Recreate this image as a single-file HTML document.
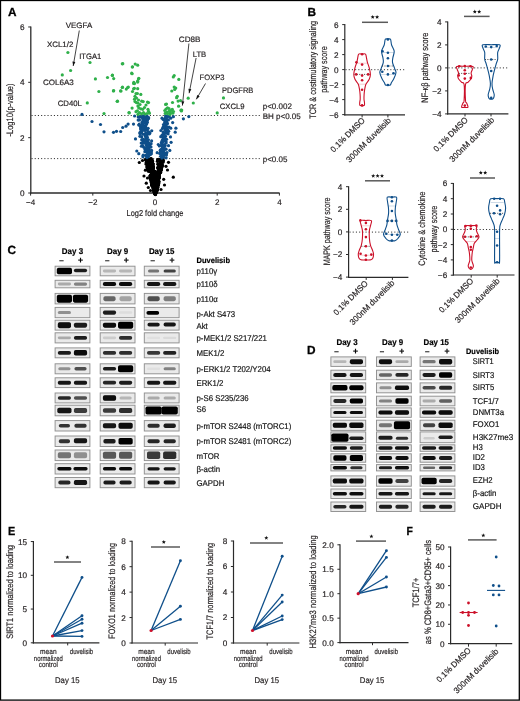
<!DOCTYPE html>
<html><head><meta charset="utf-8"><title>Figure</title><style>html,body{margin:0;padding:0;background:#fff;}body{width:520px;height:701px;overflow:hidden;}svg{display:block;}</style></head><body>
<svg width="520" height="701" viewBox="0 0 520 701" font-family='"Liberation Sans", sans-serif' fill="#231f20" stroke-width="0.18" style="will-change:transform" text-rendering="geometricPrecision">
<defs><filter id="bl" x="-30%" y="-60%" width="160%" height="220%"><feGaussianBlur stdDeviation="0.7"/></filter></defs>
<rect x="0" y="0" width="520" height="701" fill="#fff"/>
<text x="8.00" y="15.90" font-size="11.8" font-weight="bold" fill="#000" stroke="#000" stroke-width="0.3">A</text>
<line x1="30.80" y1="26.60" x2="30.80" y2="193.60" stroke="#2b2b2b" stroke-width="1.3"/>
<line x1="28.20" y1="193.00" x2="30.80" y2="193.00" stroke="#2b2b2b" stroke-width="1"/>
<text x="24.50" y="195.95" font-size="8.2" text-anchor="end" stroke="#231f20">0</text>
<line x1="28.20" y1="137.66" x2="30.80" y2="137.66" stroke="#2b2b2b" stroke-width="1"/>
<text x="24.50" y="140.61" font-size="8.2" text-anchor="end" stroke="#231f20">2</text>
<line x1="28.20" y1="82.32" x2="30.80" y2="82.32" stroke="#2b2b2b" stroke-width="1"/>
<text x="24.50" y="85.27" font-size="8.2" text-anchor="end" stroke="#231f20">4</text>
<line x1="28.20" y1="26.98" x2="30.80" y2="26.98" stroke="#2b2b2b" stroke-width="1"/>
<text x="24.50" y="29.93" font-size="8.2" text-anchor="end" stroke="#231f20">6</text>
<line x1="30.20" y1="193.00" x2="279.60" y2="193.00" stroke="#2b2b2b" stroke-width="1.3"/>
<line x1="30.60" y1="193.00" x2="30.60" y2="195.60" stroke="#2b2b2b" stroke-width="1"/>
<text x="30.60" y="204.68" font-size="8" text-anchor="middle" stroke="#231f20">−4</text>
<line x1="92.80" y1="193.00" x2="92.80" y2="195.60" stroke="#2b2b2b" stroke-width="1"/>
<text x="92.80" y="204.68" font-size="8" text-anchor="middle" stroke="#231f20">−2</text>
<line x1="155.00" y1="193.00" x2="155.00" y2="195.60" stroke="#2b2b2b" stroke-width="1"/>
<text x="155.00" y="204.68" font-size="8" text-anchor="middle" stroke="#231f20">0</text>
<line x1="217.20" y1="193.00" x2="217.20" y2="195.60" stroke="#2b2b2b" stroke-width="1"/>
<text x="217.20" y="204.68" font-size="8" text-anchor="middle" stroke="#231f20">2</text>
<line x1="279.40" y1="193.00" x2="279.40" y2="195.60" stroke="#2b2b2b" stroke-width="1"/>
<text x="279.40" y="204.68" font-size="8" text-anchor="middle" stroke="#231f20">4</text>
<text x="155.00" y="216.40" font-size="8.6" text-anchor="middle" stroke="#231f20" textLength="57" lengthAdjust="spacingAndGlyphs">Log2 fold change</text>
<text x="12.60" y="110.00" font-size="9.4" text-anchor="middle" stroke="#231f20" textLength="53.0" lengthAdjust="spacingAndGlyphs" transform="rotate(-90 12.60 110.00)">-Log10(p-value)</text>
<line x1="31.50" y1="115.50" x2="260.50" y2="115.50" stroke="#333" stroke-width="1.0" stroke-dasharray="1.1 2.1"/>
<line x1="31.50" y1="158.60" x2="260.50" y2="158.60" stroke="#333" stroke-width="1.0" stroke-dasharray="1.1 2.1"/>
<text x="262.70" y="109.28" font-size="8" stroke="#231f20">p&lt;0.002</text>
<text x="262.70" y="119.18" font-size="8" stroke="#231f20">BH p&lt;0.05</text>
<text x="262.70" y="162.28" font-size="8" stroke="#231f20">p&lt;0.05</text>
<circle cx="149.73" cy="169.99" r="1.6" fill="#000"/>
<circle cx="151.57" cy="181.89" r="1.6" fill="#000"/>
<circle cx="153.63" cy="177.71" r="1.6" fill="#000"/>
<circle cx="146.92" cy="160.74" r="1.6" fill="#000"/>
<circle cx="158.47" cy="173.65" r="1.6" fill="#000"/>
<circle cx="149.64" cy="162.71" r="1.6" fill="#000"/>
<circle cx="158.66" cy="181.04" r="1.6" fill="#000"/>
<circle cx="154.00" cy="179.21" r="1.6" fill="#000"/>
<circle cx="155.10" cy="193.74" r="1.6" fill="#000"/>
<circle cx="154.29" cy="189.45" r="1.6" fill="#000"/>
<circle cx="147.93" cy="163.45" r="1.6" fill="#000"/>
<circle cx="159.25" cy="169.43" r="1.6" fill="#000"/>
<circle cx="153.94" cy="181.46" r="1.6" fill="#000"/>
<circle cx="150.87" cy="178.14" r="1.6" fill="#000"/>
<circle cx="148.98" cy="160.37" r="1.6" fill="#000"/>
<circle cx="154.46" cy="182.97" r="1.6" fill="#000"/>
<circle cx="152.71" cy="174.70" r="1.6" fill="#000"/>
<circle cx="156.24" cy="187.12" r="1.6" fill="#000"/>
<circle cx="158.42" cy="177.32" r="1.6" fill="#000"/>
<circle cx="153.56" cy="184.75" r="1.6" fill="#000"/>
<circle cx="155.13" cy="193.88" r="1.6" fill="#000"/>
<circle cx="157.72" cy="173.42" r="1.6" fill="#000"/>
<circle cx="157.61" cy="159.63" r="1.6" fill="#000"/>
<circle cx="155.55" cy="186.03" r="1.6" fill="#000"/>
<circle cx="154.48" cy="190.07" r="1.6" fill="#000"/>
<circle cx="155.73" cy="183.51" r="1.6" fill="#000"/>
<circle cx="154.53" cy="179.31" r="1.6" fill="#000"/>
<circle cx="157.21" cy="188.77" r="1.6" fill="#000"/>
<circle cx="156.47" cy="175.46" r="1.6" fill="#000"/>
<circle cx="158.19" cy="160.41" r="1.6" fill="#000"/>
<circle cx="158.95" cy="181.76" r="1.6" fill="#000"/>
<circle cx="154.05" cy="188.12" r="1.6" fill="#000"/>
<circle cx="156.84" cy="172.24" r="1.6" fill="#000"/>
<circle cx="148.09" cy="164.32" r="1.6" fill="#000"/>
<circle cx="159.43" cy="160.35" r="1.6" fill="#000"/>
<circle cx="150.10" cy="162.91" r="1.6" fill="#000"/>
<circle cx="159.30" cy="172.43" r="1.6" fill="#000"/>
<circle cx="158.41" cy="178.20" r="1.6" fill="#000"/>
<circle cx="156.99" cy="188.02" r="1.6" fill="#000"/>
<circle cx="153.38" cy="168.33" r="1.6" fill="#000"/>
<circle cx="159.79" cy="171.26" r="1.6" fill="#000"/>
<circle cx="154.90" cy="193.06" r="1.6" fill="#000"/>
<circle cx="150.07" cy="164.61" r="1.6" fill="#000"/>
<circle cx="152.86" cy="179.64" r="1.6" fill="#000"/>
<circle cx="155.58" cy="171.64" r="1.6" fill="#000"/>
<circle cx="155.51" cy="192.89" r="1.6" fill="#000"/>
<circle cx="155.99" cy="176.96" r="1.6" fill="#000"/>
<circle cx="151.57" cy="182.81" r="1.6" fill="#000"/>
<circle cx="156.13" cy="190.94" r="1.6" fill="#000"/>
<circle cx="156.33" cy="190.03" r="1.6" fill="#000"/>
<circle cx="153.52" cy="172.48" r="1.6" fill="#000"/>
<circle cx="146.43" cy="160.47" r="1.6" fill="#000"/>
<circle cx="149.13" cy="165.80" r="1.6" fill="#000"/>
<circle cx="148.56" cy="170.58" r="1.6" fill="#000"/>
<circle cx="152.04" cy="161.89" r="1.6" fill="#000"/>
<circle cx="161.58" cy="159.13" r="1.6" fill="#000"/>
<circle cx="151.99" cy="180.55" r="1.6" fill="#000"/>
<circle cx="152.27" cy="167.38" r="1.6" fill="#000"/>
<circle cx="149.81" cy="171.46" r="1.6" fill="#000"/>
<circle cx="157.35" cy="189.10" r="1.6" fill="#000"/>
<circle cx="154.65" cy="175.16" r="1.6" fill="#000"/>
<circle cx="147.24" cy="161.33" r="1.6" fill="#000"/>
<circle cx="151.49" cy="170.67" r="1.6" fill="#000"/>
<circle cx="153.49" cy="188.37" r="1.6" fill="#000"/>
<circle cx="163.06" cy="159.04" r="1.6" fill="#000"/>
<circle cx="151.54" cy="177.43" r="1.6" fill="#000"/>
<circle cx="150.51" cy="177.97" r="1.6" fill="#000"/>
<circle cx="159.38" cy="177.42" r="1.6" fill="#000"/>
<circle cx="155.98" cy="189.63" r="1.6" fill="#000"/>
<circle cx="152.59" cy="167.70" r="1.6" fill="#000"/>
<circle cx="159.13" cy="164.28" r="1.6" fill="#000"/>
<circle cx="157.49" cy="177.59" r="1.6" fill="#000"/>
<circle cx="150.80" cy="170.20" r="1.6" fill="#000"/>
<circle cx="157.69" cy="187.74" r="1.6" fill="#000"/>
<circle cx="156.50" cy="189.24" r="1.6" fill="#000"/>
<circle cx="156.37" cy="187.99" r="1.6" fill="#000"/>
<circle cx="148.46" cy="171.14" r="1.6" fill="#000"/>
<circle cx="150.21" cy="159.22" r="1.6" fill="#000"/>
<circle cx="157.57" cy="167.63" r="1.6" fill="#000"/>
<circle cx="155.20" cy="193.02" r="1.6" fill="#000"/>
<circle cx="156.29" cy="192.31" r="1.6" fill="#000"/>
<circle cx="155.10" cy="192.96" r="1.6" fill="#000"/>
<circle cx="150.23" cy="166.22" r="1.6" fill="#000"/>
<circle cx="149.73" cy="165.36" r="1.6" fill="#000"/>
<circle cx="158.29" cy="180.92" r="1.6" fill="#000"/>
<circle cx="155.06" cy="188.79" r="1.6" fill="#000"/>
<circle cx="157.37" cy="181.97" r="1.6" fill="#000"/>
<circle cx="157.39" cy="161.29" r="1.6" fill="#000"/>
<circle cx="156.08" cy="191.32" r="1.6" fill="#000"/>
<circle cx="154.93" cy="185.51" r="1.6" fill="#000"/>
<circle cx="159.38" cy="164.70" r="1.6" fill="#000"/>
<circle cx="158.89" cy="170.30" r="1.6" fill="#000"/>
<circle cx="155.24" cy="193.57" r="1.6" fill="#000"/>
<circle cx="160.10" cy="172.81" r="1.6" fill="#000"/>
<circle cx="152.70" cy="184.58" r="1.6" fill="#000"/>
<circle cx="148.40" cy="162.82" r="1.6" fill="#000"/>
<circle cx="156.18" cy="191.14" r="1.6" fill="#000"/>
<circle cx="160.14" cy="163.52" r="1.6" fill="#000"/>
<circle cx="155.35" cy="193.88" r="1.6" fill="#000"/>
<circle cx="146.04" cy="162.97" r="1.6" fill="#000"/>
<circle cx="155.34" cy="193.54" r="1.6" fill="#000"/>
<circle cx="158.97" cy="177.37" r="1.6" fill="#000"/>
<circle cx="158.88" cy="173.99" r="1.6" fill="#000"/>
<circle cx="153.72" cy="188.27" r="1.6" fill="#000"/>
<circle cx="151.43" cy="167.37" r="1.6" fill="#000"/>
<circle cx="153.39" cy="167.64" r="1.6" fill="#000"/>
<circle cx="161.67" cy="162.97" r="1.6" fill="#000"/>
<circle cx="154.16" cy="171.08" r="1.6" fill="#000"/>
<circle cx="158.47" cy="179.43" r="1.6" fill="#000"/>
<circle cx="159.53" cy="173.51" r="1.6" fill="#000"/>
<circle cx="155.16" cy="176.46" r="1.6" fill="#000"/>
<circle cx="150.31" cy="177.26" r="1.6" fill="#000"/>
<circle cx="151.36" cy="174.22" r="1.6" fill="#000"/>
<circle cx="155.46" cy="184.60" r="1.6" fill="#000"/>
<circle cx="157.49" cy="178.42" r="1.6" fill="#000"/>
<circle cx="151.16" cy="167.25" r="1.6" fill="#000"/>
<circle cx="155.14" cy="186.31" r="1.6" fill="#000"/>
<circle cx="157.25" cy="178.65" r="1.6" fill="#000"/>
<circle cx="155.05" cy="191.41" r="1.6" fill="#000"/>
<circle cx="155.00" cy="180.50" r="1.6" fill="#000"/>
<circle cx="156.71" cy="176.84" r="1.6" fill="#000"/>
<circle cx="155.15" cy="174.67" r="1.6" fill="#000"/>
<circle cx="159.25" cy="175.60" r="1.6" fill="#000"/>
<circle cx="157.83" cy="183.65" r="1.6" fill="#000"/>
<circle cx="154.80" cy="192.50" r="1.6" fill="#000"/>
<circle cx="158.92" cy="178.57" r="1.6" fill="#000"/>
<circle cx="153.48" cy="188.78" r="1.6" fill="#000"/>
<circle cx="149.69" cy="160.84" r="1.6" fill="#000"/>
<circle cx="157.57" cy="160.86" r="1.6" fill="#000"/>
<circle cx="157.45" cy="186.74" r="1.6" fill="#000"/>
<circle cx="158.22" cy="163.82" r="1.6" fill="#000"/>
<circle cx="152.18" cy="182.23" r="1.6" fill="#000"/>
<circle cx="156.90" cy="190.34" r="1.6" fill="#000"/>
<circle cx="161.82" cy="166.19" r="1.6" fill="#000"/>
<circle cx="154.60" cy="172.70" r="1.6" fill="#000"/>
<circle cx="155.43" cy="194.23" r="1.6" fill="#000"/>
<circle cx="153.38" cy="164.08" r="1.6" fill="#000"/>
<circle cx="153.32" cy="176.97" r="1.6" fill="#000"/>
<circle cx="151.60" cy="165.33" r="1.6" fill="#000"/>
<circle cx="151.61" cy="184.49" r="1.6" fill="#000"/>
<circle cx="154.35" cy="178.37" r="1.6" fill="#000"/>
<circle cx="151.17" cy="158.86" r="1.6" fill="#000"/>
<circle cx="155.06" cy="180.91" r="1.6" fill="#000"/>
<circle cx="163.43" cy="160.54" r="1.6" fill="#000"/>
<circle cx="157.85" cy="186.90" r="1.6" fill="#000"/>
<circle cx="150.30" cy="162.01" r="1.6" fill="#000"/>
<circle cx="159.70" cy="159.64" r="1.6" fill="#000"/>
<circle cx="149.04" cy="168.04" r="1.6" fill="#000"/>
<circle cx="159.44" cy="173.57" r="1.6" fill="#000"/>
<circle cx="153.90" cy="188.01" r="1.6" fill="#000"/>
<circle cx="161.72" cy="163.64" r="1.6" fill="#000"/>
<circle cx="156.70" cy="178.97" r="1.6" fill="#000"/>
<circle cx="146.46" cy="161.46" r="1.6" fill="#000"/>
<circle cx="154.45" cy="183.25" r="1.6" fill="#000"/>
<circle cx="162.52" cy="160.84" r="1.6" fill="#000"/>
<circle cx="157.44" cy="181.29" r="1.6" fill="#000"/>
<circle cx="160.95" cy="161.25" r="1.6" fill="#000"/>
<circle cx="161.15" cy="160.63" r="1.6" fill="#000"/>
<circle cx="153.13" cy="174.72" r="1.6" fill="#000"/>
<circle cx="158.79" cy="178.33" r="1.6" fill="#000"/>
<circle cx="149.02" cy="167.95" r="1.6" fill="#000"/>
<circle cx="152.40" cy="177.38" r="1.6" fill="#000"/>
<circle cx="148.47" cy="162.18" r="1.6" fill="#000"/>
<circle cx="148.85" cy="160.03" r="1.6" fill="#000"/>
<circle cx="151.87" cy="169.56" r="1.6" fill="#000"/>
<circle cx="153.73" cy="185.85" r="1.6" fill="#000"/>
<circle cx="151.71" cy="176.40" r="1.6" fill="#000"/>
<circle cx="148.19" cy="170.83" r="1.6" fill="#000"/>
<circle cx="147.13" cy="167.32" r="1.6" fill="#000"/>
<circle cx="155.42" cy="184.88" r="1.6" fill="#000"/>
<circle cx="154.35" cy="192.22" r="1.6" fill="#000"/>
<circle cx="154.79" cy="188.01" r="1.6" fill="#000"/>
<circle cx="158.13" cy="176.22" r="1.6" fill="#000"/>
<circle cx="154.83" cy="172.51" r="1.6" fill="#000"/>
<circle cx="158.67" cy="183.23" r="1.6" fill="#000"/>
<circle cx="159.24" cy="170.67" r="1.6" fill="#000"/>
<circle cx="156.03" cy="183.92" r="1.6" fill="#000"/>
<circle cx="152.95" cy="172.93" r="1.6" fill="#000"/>
<circle cx="147.53" cy="160.18" r="1.6" fill="#000"/>
<circle cx="158.89" cy="160.77" r="1.6" fill="#000"/>
<circle cx="149.45" cy="167.50" r="1.6" fill="#000"/>
<circle cx="160.68" cy="161.28" r="1.6" fill="#000"/>
<circle cx="155.85" cy="189.89" r="1.6" fill="#000"/>
<circle cx="150.80" cy="168.46" r="1.6" fill="#000"/>
<circle cx="161.67" cy="167.78" r="1.6" fill="#000"/>
<circle cx="155.30" cy="193.60" r="1.6" fill="#000"/>
<circle cx="161.86" cy="167.10" r="1.6" fill="#000"/>
<circle cx="152.60" cy="169.47" r="1.6" fill="#000"/>
<circle cx="154.85" cy="175.48" r="1.6" fill="#000"/>
<circle cx="152.65" cy="161.47" r="1.6" fill="#000"/>
<circle cx="145.42" cy="159.72" r="1.6" fill="#000"/>
<circle cx="150.78" cy="169.27" r="1.6" fill="#000"/>
<circle cx="155.18" cy="179.52" r="1.6" fill="#000"/>
<circle cx="156.13" cy="185.52" r="1.6" fill="#000"/>
<circle cx="157.79" cy="184.26" r="1.6" fill="#000"/>
<circle cx="152.61" cy="172.38" r="1.6" fill="#000"/>
<circle cx="155.15" cy="194.04" r="1.6" fill="#000"/>
<circle cx="156.07" cy="184.56" r="1.6" fill="#000"/>
<circle cx="160.75" cy="159.79" r="1.6" fill="#000"/>
<circle cx="155.64" cy="190.67" r="1.6" fill="#000"/>
<circle cx="157.25" cy="184.91" r="1.6" fill="#000"/>
<circle cx="158.10" cy="176.56" r="1.6" fill="#000"/>
<circle cx="156.90" cy="187.49" r="1.6" fill="#000"/>
<circle cx="158.37" cy="179.46" r="1.6" fill="#000"/>
<circle cx="156.49" cy="183.06" r="1.6" fill="#000"/>
<circle cx="147.19" cy="166.57" r="1.6" fill="#000"/>
<circle cx="152.09" cy="163.04" r="1.6" fill="#000"/>
<circle cx="160.49" cy="162.02" r="1.6" fill="#000"/>
<circle cx="156.06" cy="178.53" r="1.6" fill="#000"/>
<circle cx="156.46" cy="180.99" r="1.6" fill="#000"/>
<circle cx="149.93" cy="176.01" r="1.6" fill="#000"/>
<circle cx="156.51" cy="187.24" r="1.6" fill="#000"/>
<circle cx="155.19" cy="176.51" r="1.6" fill="#000"/>
<circle cx="151.57" cy="182.20" r="1.6" fill="#000"/>
<circle cx="153.33" cy="185.02" r="1.6" fill="#000"/>
<circle cx="150.16" cy="160.91" r="1.6" fill="#000"/>
<circle cx="152.97" cy="184.75" r="1.6" fill="#000"/>
<circle cx="158.36" cy="185.13" r="1.6" fill="#000"/>
<circle cx="153.69" cy="176.18" r="1.6" fill="#000"/>
<circle cx="156.66" cy="175.64" r="1.6" fill="#000"/>
<circle cx="155.83" cy="186.12" r="1.6" fill="#000"/>
<circle cx="151.56" cy="181.60" r="1.6" fill="#000"/>
<circle cx="150.30" cy="163.57" r="1.6" fill="#000"/>
<circle cx="153.73" cy="185.25" r="1.6" fill="#000"/>
<circle cx="150.54" cy="178.87" r="1.6" fill="#000"/>
<circle cx="150.15" cy="160.41" r="1.6" fill="#000"/>
<circle cx="156.49" cy="182.66" r="1.6" fill="#000"/>
<circle cx="153.40" cy="182.80" r="1.6" fill="#000"/>
<circle cx="154.52" cy="177.00" r="1.6" fill="#000"/>
<circle cx="150.95" cy="175.17" r="1.6" fill="#000"/>
<circle cx="154.18" cy="190.73" r="1.6" fill="#000"/>
<circle cx="155.46" cy="193.80" r="1.6" fill="#000"/>
<circle cx="157.52" cy="188.04" r="1.6" fill="#000"/>
<circle cx="152.36" cy="174.56" r="1.6" fill="#000"/>
<circle cx="161.78" cy="165.84" r="1.6" fill="#000"/>
<circle cx="154.78" cy="192.88" r="1.6" fill="#000"/>
<circle cx="155.18" cy="188.06" r="1.6" fill="#000"/>
<circle cx="155.92" cy="190.48" r="1.6" fill="#000"/>
<circle cx="160.88" cy="166.62" r="1.6" fill="#000"/>
<circle cx="150.12" cy="175.90" r="1.6" fill="#000"/>
<circle cx="152.72" cy="174.61" r="1.6" fill="#000"/>
<circle cx="151.82" cy="163.32" r="1.6" fill="#000"/>
<circle cx="159.56" cy="169.71" r="1.6" fill="#000"/>
<circle cx="153.39" cy="188.74" r="1.6" fill="#000"/>
<circle cx="155.80" cy="191.92" r="1.6" fill="#000"/>
<circle cx="154.54" cy="191.02" r="1.6" fill="#000"/>
<circle cx="153.36" cy="171.75" r="1.6" fill="#000"/>
<circle cx="155.34" cy="194.56" r="1.6" fill="#000"/>
<circle cx="153.78" cy="171.33" r="1.6" fill="#000"/>
<circle cx="147.85" cy="168.22" r="1.6" fill="#000"/>
<circle cx="160.48" cy="161.90" r="1.6" fill="#000"/>
<circle cx="161.12" cy="168.60" r="1.6" fill="#000"/>
<circle cx="150.99" cy="167.28" r="1.6" fill="#000"/>
<circle cx="151.87" cy="176.80" r="1.6" fill="#000"/>
<circle cx="160.56" cy="171.79" r="1.6" fill="#000"/>
<circle cx="156.32" cy="190.39" r="1.6" fill="#000"/>
<circle cx="158.37" cy="181.16" r="1.6" fill="#000"/>
<circle cx="155.34" cy="192.44" r="1.6" fill="#000"/>
<circle cx="151.81" cy="184.39" r="1.6" fill="#000"/>
<circle cx="154.71" cy="184.86" r="1.6" fill="#000"/>
<circle cx="156.03" cy="185.60" r="1.6" fill="#000"/>
<circle cx="147.96" cy="168.62" r="1.6" fill="#000"/>
<circle cx="154.25" cy="191.93" r="1.6" fill="#000"/>
<circle cx="153.25" cy="175.39" r="1.6" fill="#000"/>
<circle cx="158.16" cy="169.04" r="1.6" fill="#000"/>
<circle cx="155.18" cy="193.74" r="1.6" fill="#000"/>
<circle cx="153.41" cy="182.08" r="1.6" fill="#000"/>
<circle cx="153.94" cy="178.49" r="1.6" fill="#000"/>
<circle cx="148.84" cy="164.29" r="1.6" fill="#000"/>
<circle cx="161.15" cy="165.77" r="1.6" fill="#000"/>
<circle cx="152.10" cy="176.29" r="1.6" fill="#000"/>
<circle cx="156.76" cy="191.19" r="1.6" fill="#000"/>
<circle cx="151.00" cy="174.58" r="1.6" fill="#000"/>
<circle cx="147.84" cy="165.20" r="1.6" fill="#000"/>
<circle cx="149.11" cy="170.65" r="1.6" fill="#000"/>
<circle cx="150.83" cy="166.90" r="1.6" fill="#000"/>
<circle cx="158.37" cy="178.93" r="1.6" fill="#000"/>
<circle cx="154.49" cy="185.49" r="1.6" fill="#000"/>
<circle cx="155.05" cy="173.27" r="1.6" fill="#000"/>
<circle cx="152.69" cy="171.92" r="1.6" fill="#000"/>
<circle cx="150.32" cy="160.46" r="1.6" fill="#000"/>
<circle cx="155.08" cy="193.42" r="1.6" fill="#000"/>
<circle cx="156.11" cy="176.52" r="1.6" fill="#000"/>
<circle cx="154.01" cy="189.61" r="1.6" fill="#000"/>
<circle cx="150.84" cy="168.07" r="1.6" fill="#000"/>
<circle cx="154.11" cy="172.75" r="1.6" fill="#000"/>
<circle cx="155.69" cy="192.92" r="1.6" fill="#000"/>
<circle cx="153.33" cy="189.97" r="1.6" fill="#000"/>
<circle cx="158.41" cy="159.37" r="1.6" fill="#000"/>
<circle cx="155.12" cy="190.80" r="1.6" fill="#000"/>
<circle cx="150.56" cy="179.57" r="1.6" fill="#000"/>
<circle cx="159.97" cy="172.45" r="1.6" fill="#000"/>
<circle cx="156.91" cy="188.25" r="1.6" fill="#000"/>
<circle cx="155.18" cy="193.59" r="1.6" fill="#000"/>
<circle cx="148.34" cy="162.17" r="1.6" fill="#000"/>
<circle cx="156.60" cy="177.21" r="1.6" fill="#000"/>
<circle cx="155.67" cy="192.47" r="1.6" fill="#000"/>
<circle cx="157.11" cy="181.76" r="1.6" fill="#000"/>
<circle cx="155.34" cy="174.85" r="1.6" fill="#000"/>
<circle cx="159.76" cy="159.64" r="1.6" fill="#000"/>
<circle cx="161.22" cy="166.67" r="1.6" fill="#000"/>
<circle cx="153.40" cy="181.70" r="1.6" fill="#000"/>
<circle cx="150.17" cy="162.86" r="1.6" fill="#000"/>
<circle cx="156.59" cy="181.36" r="1.6" fill="#000"/>
<circle cx="146.87" cy="162.28" r="1.6" fill="#000"/>
<circle cx="155.65" cy="177.29" r="1.6" fill="#000"/>
<circle cx="151.33" cy="172.33" r="1.6" fill="#000"/>
<circle cx="150.74" cy="180.08" r="1.6" fill="#000"/>
<circle cx="155.41" cy="193.11" r="1.6" fill="#000"/>
<circle cx="155.11" cy="190.37" r="1.6" fill="#000"/>
<circle cx="150.63" cy="166.75" r="1.6" fill="#000"/>
<circle cx="155.45" cy="193.17" r="1.6" fill="#000"/>
<circle cx="147.75" cy="169.39" r="1.6" fill="#000"/>
<circle cx="156.55" cy="176.34" r="1.6" fill="#000"/>
<circle cx="152.01" cy="173.49" r="1.6" fill="#000"/>
<circle cx="158.32" cy="182.49" r="1.6" fill="#000"/>
<circle cx="147.21" cy="166.46" r="1.6" fill="#000"/>
<circle cx="153.60" cy="170.51" r="1.6" fill="#000"/>
<circle cx="152.71" cy="183.05" r="1.6" fill="#000"/>
<circle cx="156.46" cy="187.21" r="1.6" fill="#000"/>
<circle cx="151.99" cy="176.58" r="1.6" fill="#000"/>
<circle cx="155.20" cy="193.50" r="1.6" fill="#000"/>
<circle cx="153.77" cy="188.05" r="1.6" fill="#000"/>
<circle cx="158.75" cy="166.26" r="1.6" fill="#000"/>
<circle cx="161.30" cy="168.94" r="1.6" fill="#000"/>
<circle cx="151.78" cy="176.25" r="1.6" fill="#000"/>
<circle cx="153.28" cy="166.33" r="1.6" fill="#000"/>
<circle cx="158.51" cy="182.42" r="1.6" fill="#000"/>
<circle cx="152.69" cy="163.53" r="1.6" fill="#000"/>
<circle cx="162.21" cy="165.95" r="1.6" fill="#000"/>
<circle cx="146.78" cy="163.37" r="1.6" fill="#000"/>
<circle cx="152.47" cy="160.39" r="1.6" fill="#000"/>
<circle cx="156.47" cy="190.89" r="1.6" fill="#000"/>
<circle cx="158.56" cy="184.87" r="1.6" fill="#000"/>
<circle cx="154.82" cy="192.11" r="1.6" fill="#000"/>
<circle cx="161.78" cy="164.95" r="1.6" fill="#000"/>
<circle cx="151.90" cy="185.37" r="1.6" fill="#000"/>
<circle cx="154.05" cy="182.39" r="1.6" fill="#000"/>
<circle cx="152.59" cy="171.81" r="1.6" fill="#000"/>
<circle cx="146.18" cy="164.36" r="1.6" fill="#000"/>
<circle cx="152.43" cy="168.38" r="1.6" fill="#000"/>
<circle cx="154.82" cy="192.98" r="1.6" fill="#000"/>
<circle cx="155.07" cy="193.30" r="1.6" fill="#000"/>
<circle cx="158.98" cy="171.18" r="1.6" fill="#000"/>
<circle cx="154.80" cy="188.12" r="1.6" fill="#000"/>
<circle cx="160.10" cy="171.77" r="1.6" fill="#000"/>
<circle cx="152.34" cy="165.23" r="1.6" fill="#000"/>
<circle cx="153.65" cy="190.85" r="1.6" fill="#000"/>
<circle cx="158.41" cy="173.15" r="1.6" fill="#000"/>
<circle cx="152.19" cy="186.11" r="1.6" fill="#000"/>
<circle cx="146.12" cy="159.47" r="1.6" fill="#000"/>
<circle cx="154.55" cy="191.69" r="1.6" fill="#000"/>
<circle cx="157.76" cy="185.40" r="1.6" fill="#000"/>
<circle cx="151.57" cy="170.54" r="1.6" fill="#000"/>
<circle cx="155.39" cy="193.06" r="1.6" fill="#000"/>
<circle cx="157.94" cy="167.74" r="1.6" fill="#000"/>
<circle cx="151.47" cy="169.72" r="1.6" fill="#000"/>
<circle cx="155.61" cy="191.56" r="1.6" fill="#000"/>
<circle cx="154.39" cy="192.53" r="1.6" fill="#000"/>
<circle cx="155.76" cy="193.03" r="1.6" fill="#000"/>
<circle cx="151.66" cy="172.27" r="1.6" fill="#000"/>
<circle cx="154.71" cy="173.85" r="1.6" fill="#000"/>
<circle cx="154.41" cy="191.98" r="1.6" fill="#000"/>
<circle cx="156.43" cy="187.41" r="1.6" fill="#000"/>
<circle cx="156.51" cy="188.15" r="1.6" fill="#000"/>
<circle cx="153.48" cy="180.30" r="1.6" fill="#000"/>
<circle cx="152.71" cy="169.83" r="1.6" fill="#000"/>
<circle cx="152.60" cy="186.67" r="1.6" fill="#000"/>
<circle cx="158.71" cy="165.38" r="1.6" fill="#000"/>
<circle cx="147.87" cy="167.20" r="1.6" fill="#000"/>
<circle cx="161.49" cy="170.06" r="1.6" fill="#000"/>
<circle cx="156.97" cy="190.36" r="1.6" fill="#000"/>
<circle cx="148.31" cy="167.84" r="1.6" fill="#000"/>
<circle cx="154.65" cy="184.04" r="1.6" fill="#000"/>
<circle cx="153.30" cy="166.72" r="1.6" fill="#000"/>
<circle cx="156.41" cy="180.78" r="1.6" fill="#000"/>
<circle cx="157.41" cy="185.43" r="1.6" fill="#000"/>
<circle cx="152.03" cy="182.39" r="1.6" fill="#000"/>
<circle cx="154.21" cy="188.81" r="1.6" fill="#000"/>
<circle cx="153.77" cy="178.83" r="1.6" fill="#000"/>
<circle cx="152.97" cy="185.07" r="1.6" fill="#000"/>
<circle cx="150.67" cy="167.21" r="1.6" fill="#000"/>
<circle cx="161.10" cy="163.78" r="1.6" fill="#000"/>
<circle cx="153.38" cy="179.25" r="1.6" fill="#000"/>
<circle cx="160.71" cy="172.62" r="1.6" fill="#000"/>
<circle cx="152.26" cy="176.67" r="1.6" fill="#000"/>
<circle cx="155.95" cy="187.63" r="1.6" fill="#000"/>
<circle cx="155.14" cy="194.27" r="1.6" fill="#000"/>
<circle cx="158.03" cy="175.48" r="1.6" fill="#000"/>
<circle cx="157.07" cy="188.80" r="1.6" fill="#000"/>
<circle cx="150.53" cy="159.67" r="1.6" fill="#000"/>
<circle cx="149.03" cy="162.54" r="1.6" fill="#000"/>
<circle cx="155.31" cy="193.62" r="1.6" fill="#000"/>
<circle cx="154.92" cy="192.06" r="1.6" fill="#000"/>
<circle cx="154.98" cy="189.73" r="1.6" fill="#000"/>
<circle cx="158.88" cy="167.66" r="1.6" fill="#000"/>
<circle cx="154.59" cy="192.62" r="1.6" fill="#000"/>
<circle cx="155.97" cy="179.90" r="1.6" fill="#000"/>
<circle cx="152.49" cy="166.12" r="1.6" fill="#000"/>
<circle cx="149.40" cy="163.35" r="1.6" fill="#000"/>
<circle cx="152.62" cy="181.92" r="1.6" fill="#000"/>
<circle cx="151.06" cy="158.61" r="1.6" fill="#000"/>
<circle cx="152.59" cy="182.89" r="1.6" fill="#000"/>
<circle cx="150.40" cy="169.56" r="1.6" fill="#000"/>
<circle cx="155.39" cy="187.15" r="1.6" fill="#000"/>
<circle cx="147.07" cy="160.50" r="1.6" fill="#000"/>
<circle cx="155.36" cy="172.59" r="1.6" fill="#000"/>
<circle cx="151.65" cy="181.47" r="1.6" fill="#000"/>
<circle cx="157.85" cy="164.16" r="1.6" fill="#000"/>
<circle cx="152.23" cy="173.12" r="1.6" fill="#000"/>
<circle cx="161.24" cy="169.40" r="1.6" fill="#000"/>
<circle cx="153.61" cy="171.20" r="1.6" fill="#000"/>
<circle cx="157.20" cy="189.66" r="1.6" fill="#000"/>
<circle cx="150.77" cy="171.44" r="1.6" fill="#000"/>
<circle cx="152.95" cy="184.70" r="1.6" fill="#000"/>
<circle cx="158.40" cy="173.62" r="1.6" fill="#000"/>
<circle cx="159.28" cy="172.99" r="1.6" fill="#000"/>
<circle cx="151.36" cy="174.98" r="1.6" fill="#000"/>
<circle cx="158.30" cy="181.52" r="1.6" fill="#000"/>
<circle cx="154.79" cy="171.70" r="1.6" fill="#000"/>
<circle cx="150.79" cy="163.51" r="1.6" fill="#000"/>
<circle cx="158.91" cy="177.17" r="1.6" fill="#000"/>
<circle cx="157.66" cy="187.50" r="1.6" fill="#000"/>
<circle cx="148.47" cy="165.38" r="1.6" fill="#000"/>
<circle cx="156.12" cy="192.53" r="1.6" fill="#000"/>
<circle cx="150.39" cy="175.77" r="1.6" fill="#000"/>
<circle cx="154.94" cy="191.91" r="1.6" fill="#000"/>
<circle cx="155.60" cy="191.11" r="1.6" fill="#000"/>
<circle cx="153.45" cy="188.21" r="1.6" fill="#000"/>
<circle cx="153.48" cy="186.80" r="1.6" fill="#000"/>
<circle cx="158.87" cy="172.92" r="1.6" fill="#000"/>
<circle cx="153.60" cy="188.38" r="1.6" fill="#000"/>
<circle cx="152.99" cy="166.14" r="1.6" fill="#000"/>
<circle cx="153.75" cy="177.05" r="1.6" fill="#000"/>
<circle cx="150.06" cy="162.68" r="1.6" fill="#000"/>
<circle cx="157.89" cy="184.59" r="1.6" fill="#000"/>
<circle cx="152.07" cy="185.77" r="1.6" fill="#000"/>
<circle cx="153.37" cy="188.71" r="1.6" fill="#000"/>
<circle cx="155.37" cy="180.02" r="1.6" fill="#000"/>
<circle cx="153.36" cy="181.02" r="1.6" fill="#000"/>
<circle cx="155.72" cy="173.49" r="1.6" fill="#000"/>
<circle cx="156.57" cy="173.70" r="1.6" fill="#000"/>
<circle cx="154.14" cy="174.46" r="1.6" fill="#000"/>
<circle cx="152.22" cy="176.02" r="1.6" fill="#000"/>
<circle cx="156.87" cy="185.99" r="1.6" fill="#000"/>
<circle cx="151.51" cy="174.88" r="1.6" fill="#000"/>
<circle cx="150.87" cy="175.43" r="1.6" fill="#000"/>
<circle cx="150.43" cy="176.77" r="1.6" fill="#000"/>
<circle cx="151.56" cy="181.37" r="1.6" fill="#000"/>
<circle cx="157.01" cy="184.90" r="1.6" fill="#000"/>
<circle cx="150.57" cy="176.82" r="1.6" fill="#000"/>
<circle cx="153.67" cy="176.54" r="1.6" fill="#000"/>
<circle cx="154.74" cy="192.81" r="1.6" fill="#000"/>
<circle cx="157.27" cy="189.40" r="1.6" fill="#000"/>
<circle cx="157.28" cy="184.85" r="1.6" fill="#000"/>
<circle cx="162.48" cy="165.25" r="1.6" fill="#000"/>
<circle cx="159.34" cy="176.10" r="1.6" fill="#000"/>
<circle cx="154.26" cy="191.54" r="1.6" fill="#000"/>
<circle cx="157.61" cy="186.90" r="1.6" fill="#000"/>
<circle cx="151.70" cy="160.58" r="1.6" fill="#000"/>
<circle cx="152.85" cy="185.72" r="1.6" fill="#000"/>
<circle cx="154.46" cy="190.83" r="1.6" fill="#000"/>
<circle cx="153.29" cy="187.89" r="1.6" fill="#000"/>
<circle cx="158.93" cy="176.48" r="1.6" fill="#000"/>
<circle cx="150.75" cy="165.78" r="1.6" fill="#000"/>
<circle cx="153.10" cy="176.62" r="1.6" fill="#000"/>
<circle cx="148.40" cy="159.54" r="1.6" fill="#000"/>
<circle cx="161.94" cy="164.07" r="1.6" fill="#000"/>
<circle cx="158.04" cy="182.94" r="1.6" fill="#000"/>
<circle cx="159.34" cy="164.34" r="1.6" fill="#000"/>
<circle cx="153.83" cy="181.36" r="1.6" fill="#000"/>
<circle cx="155.40" cy="189.98" r="1.6" fill="#000"/>
<circle cx="158.29" cy="179.31" r="1.6" fill="#000"/>
<circle cx="163.30" cy="162.01" r="1.6" fill="#000"/>
<circle cx="154.09" cy="181.12" r="1.6" fill="#000"/>
<circle cx="153.80" cy="187.24" r="1.6" fill="#000"/>
<circle cx="155.32" cy="194.25" r="1.6" fill="#000"/>
<circle cx="158.20" cy="171.31" r="1.6" fill="#000"/>
<circle cx="151.32" cy="174.30" r="1.6" fill="#000"/>
<circle cx="151.98" cy="185.27" r="1.6" fill="#000"/>
<circle cx="153.89" cy="188.04" r="1.6" fill="#000"/>
<circle cx="158.91" cy="181.47" r="1.6" fill="#000"/>
<circle cx="156.36" cy="179.53" r="1.6" fill="#000"/>
<circle cx="147.50" cy="169.58" r="1.6" fill="#000"/>
<circle cx="147.76" cy="159.43" r="1.6" fill="#000"/>
<circle cx="154.38" cy="180.62" r="1.6" fill="#000"/>
<circle cx="158.66" cy="176.86" r="1.6" fill="#000"/>
<circle cx="149.76" cy="163.01" r="1.6" fill="#000"/>
<circle cx="151.18" cy="181.97" r="1.6" fill="#000"/>
<circle cx="151.94" cy="162.07" r="1.6" fill="#000"/>
<circle cx="152.35" cy="179.64" r="1.6" fill="#000"/>
<circle cx="154.75" cy="180.91" r="1.6" fill="#000"/>
<circle cx="162.11" cy="163.10" r="1.6" fill="#000"/>
<circle cx="149.15" cy="167.07" r="1.6" fill="#000"/>
<circle cx="156.29" cy="189.91" r="1.6" fill="#000"/>
<circle cx="151.94" cy="172.83" r="1.6" fill="#000"/>
<circle cx="153.55" cy="178.67" r="1.6" fill="#000"/>
<circle cx="154.53" cy="181.70" r="1.6" fill="#000"/>
<circle cx="155.75" cy="192.31" r="1.6" fill="#000"/>
<circle cx="160.87" cy="167.25" r="1.6" fill="#000"/>
<circle cx="151.66" cy="172.98" r="1.6" fill="#000"/>
<circle cx="159.63" cy="160.33" r="1.6" fill="#000"/>
<circle cx="154.55" cy="192.45" r="1.6" fill="#000"/>
<circle cx="156.22" cy="176.65" r="1.6" fill="#000"/>
<circle cx="139.30" cy="162.50" r="1.6" fill="#000"/>
<circle cx="173.30" cy="177.20" r="1.6" fill="#000"/>
<circle cx="168.50" cy="162.30" r="1.6" fill="#000"/>
<circle cx="146.30" cy="183.20" r="1.6" fill="#000"/>
<circle cx="144.00" cy="176.00" r="1.6" fill="#000"/>
<circle cx="148.30" cy="187.50" r="1.6" fill="#000"/>
<circle cx="163.70" cy="179.30" r="1.6" fill="#000"/>
<circle cx="166.00" cy="166.30" r="1.6" fill="#000"/>
<circle cx="145.40" cy="170.20" r="1.6" fill="#000"/>
<circle cx="142.50" cy="160.50" r="1.6" fill="#000"/>
<circle cx="167.50" cy="170.00" r="1.6" fill="#000"/>
<circle cx="147.50" cy="178.00" r="1.6" fill="#000"/>
<circle cx="164.50" cy="185.00" r="1.6" fill="#000"/>
<circle cx="150.50" cy="190.50" r="1.6" fill="#000"/>
<circle cx="161.00" cy="189.50" r="1.6" fill="#000"/>
<circle cx="146.51" cy="150.29" r="1.6" fill="#0f4f8a"/>
<circle cx="146.74" cy="117.86" r="1.6" fill="#0f4f8a"/>
<circle cx="148.71" cy="146.13" r="1.6" fill="#0f4f8a"/>
<circle cx="147.06" cy="151.60" r="1.6" fill="#0f4f8a"/>
<circle cx="147.05" cy="147.25" r="1.6" fill="#0f4f8a"/>
<circle cx="145.38" cy="125.65" r="1.6" fill="#0f4f8a"/>
<circle cx="147.02" cy="130.03" r="1.6" fill="#0f4f8a"/>
<circle cx="144.90" cy="151.64" r="1.6" fill="#0f4f8a"/>
<circle cx="146.60" cy="139.28" r="1.6" fill="#0f4f8a"/>
<circle cx="140.92" cy="127.05" r="1.6" fill="#0f4f8a"/>
<circle cx="148.41" cy="156.72" r="1.6" fill="#0f4f8a"/>
<circle cx="143.87" cy="126.84" r="1.6" fill="#0f4f8a"/>
<circle cx="149.63" cy="147.34" r="1.6" fill="#0f4f8a"/>
<circle cx="142.47" cy="129.66" r="1.6" fill="#0f4f8a"/>
<circle cx="145.74" cy="125.94" r="1.6" fill="#0f4f8a"/>
<circle cx="149.44" cy="145.18" r="1.6" fill="#0f4f8a"/>
<circle cx="147.05" cy="151.40" r="1.6" fill="#0f4f8a"/>
<circle cx="147.01" cy="152.16" r="1.6" fill="#0f4f8a"/>
<circle cx="140.90" cy="128.85" r="1.6" fill="#0f4f8a"/>
<circle cx="147.44" cy="142.20" r="1.6" fill="#0f4f8a"/>
<circle cx="142.04" cy="116.94" r="1.6" fill="#0f4f8a"/>
<circle cx="148.27" cy="155.19" r="1.6" fill="#0f4f8a"/>
<circle cx="143.56" cy="117.57" r="1.6" fill="#0f4f8a"/>
<circle cx="146.20" cy="142.68" r="1.6" fill="#0f4f8a"/>
<circle cx="145.08" cy="140.84" r="1.6" fill="#0f4f8a"/>
<circle cx="151.58" cy="150.46" r="1.6" fill="#0f4f8a"/>
<circle cx="148.54" cy="118.60" r="1.6" fill="#0f4f8a"/>
<circle cx="148.31" cy="155.84" r="1.6" fill="#0f4f8a"/>
<circle cx="147.06" cy="117.26" r="1.6" fill="#0f4f8a"/>
<circle cx="147.78" cy="142.69" r="1.6" fill="#0f4f8a"/>
<circle cx="145.67" cy="127.98" r="1.6" fill="#0f4f8a"/>
<circle cx="139.50" cy="119.95" r="1.6" fill="#0f4f8a"/>
<circle cx="146.66" cy="129.33" r="1.6" fill="#0f4f8a"/>
<circle cx="142.69" cy="127.78" r="1.6" fill="#0f4f8a"/>
<circle cx="144.59" cy="129.40" r="1.6" fill="#0f4f8a"/>
<circle cx="147.72" cy="151.90" r="1.6" fill="#0f4f8a"/>
<circle cx="138.26" cy="117.11" r="1.6" fill="#0f4f8a"/>
<circle cx="145.15" cy="130.50" r="1.6" fill="#0f4f8a"/>
<circle cx="138.81" cy="124.98" r="1.6" fill="#0f4f8a"/>
<circle cx="148.95" cy="150.56" r="1.6" fill="#0f4f8a"/>
<circle cx="143.41" cy="115.86" r="1.6" fill="#0f4f8a"/>
<circle cx="134.62" cy="115.98" r="1.6" fill="#0f4f8a"/>
<circle cx="141.75" cy="136.64" r="1.6" fill="#0f4f8a"/>
<circle cx="146.52" cy="136.77" r="1.6" fill="#0f4f8a"/>
<circle cx="146.37" cy="155.82" r="1.6" fill="#0f4f8a"/>
<circle cx="142.59" cy="124.90" r="1.6" fill="#0f4f8a"/>
<circle cx="146.30" cy="142.79" r="1.6" fill="#0f4f8a"/>
<circle cx="147.93" cy="149.21" r="1.6" fill="#0f4f8a"/>
<circle cx="140.97" cy="130.88" r="1.6" fill="#0f4f8a"/>
<circle cx="139.94" cy="132.53" r="1.6" fill="#0f4f8a"/>
<circle cx="148.19" cy="153.47" r="1.6" fill="#0f4f8a"/>
<circle cx="149.57" cy="154.01" r="1.6" fill="#0f4f8a"/>
<circle cx="141.63" cy="131.88" r="1.6" fill="#0f4f8a"/>
<circle cx="145.45" cy="135.34" r="1.6" fill="#0f4f8a"/>
<circle cx="142.04" cy="143.20" r="1.6" fill="#0f4f8a"/>
<circle cx="146.83" cy="129.65" r="1.6" fill="#0f4f8a"/>
<circle cx="143.79" cy="147.26" r="1.6" fill="#0f4f8a"/>
<circle cx="146.15" cy="134.41" r="1.6" fill="#0f4f8a"/>
<circle cx="145.07" cy="121.14" r="1.6" fill="#0f4f8a"/>
<circle cx="142.44" cy="123.92" r="1.6" fill="#0f4f8a"/>
<circle cx="142.76" cy="145.61" r="1.6" fill="#0f4f8a"/>
<circle cx="142.02" cy="122.41" r="1.6" fill="#0f4f8a"/>
<circle cx="146.76" cy="122.62" r="1.6" fill="#0f4f8a"/>
<circle cx="146.72" cy="123.83" r="1.6" fill="#0f4f8a"/>
<circle cx="138.18" cy="120.12" r="1.6" fill="#0f4f8a"/>
<circle cx="148.48" cy="132.09" r="1.6" fill="#0f4f8a"/>
<circle cx="148.01" cy="146.89" r="1.6" fill="#0f4f8a"/>
<circle cx="147.27" cy="120.33" r="1.6" fill="#0f4f8a"/>
<circle cx="141.03" cy="132.27" r="1.6" fill="#0f4f8a"/>
<circle cx="149.27" cy="145.20" r="1.6" fill="#0f4f8a"/>
<circle cx="148.47" cy="142.61" r="1.6" fill="#0f4f8a"/>
<circle cx="149.94" cy="132.96" r="1.6" fill="#0f4f8a"/>
<circle cx="148.01" cy="134.03" r="1.6" fill="#0f4f8a"/>
<circle cx="147.45" cy="147.56" r="1.6" fill="#0f4f8a"/>
<circle cx="149.79" cy="153.12" r="1.6" fill="#0f4f8a"/>
<circle cx="151.36" cy="151.94" r="1.6" fill="#0f4f8a"/>
<circle cx="144.92" cy="143.00" r="1.6" fill="#0f4f8a"/>
<circle cx="147.09" cy="119.95" r="1.6" fill="#0f4f8a"/>
<circle cx="148.53" cy="148.97" r="1.6" fill="#0f4f8a"/>
<circle cx="140.38" cy="126.40" r="1.6" fill="#0f4f8a"/>
<circle cx="146.09" cy="133.16" r="1.6" fill="#0f4f8a"/>
<circle cx="145.56" cy="155.24" r="1.6" fill="#0f4f8a"/>
<circle cx="141.01" cy="132.28" r="1.6" fill="#0f4f8a"/>
<circle cx="146.81" cy="157.12" r="1.6" fill="#0f4f8a"/>
<circle cx="147.30" cy="148.95" r="1.6" fill="#0f4f8a"/>
<circle cx="142.87" cy="120.09" r="1.6" fill="#0f4f8a"/>
<circle cx="145.90" cy="138.74" r="1.6" fill="#0f4f8a"/>
<circle cx="146.55" cy="142.90" r="1.6" fill="#0f4f8a"/>
<circle cx="141.54" cy="133.20" r="1.6" fill="#0f4f8a"/>
<circle cx="146.66" cy="144.82" r="1.6" fill="#0f4f8a"/>
<circle cx="147.01" cy="157.54" r="1.6" fill="#0f4f8a"/>
<circle cx="142.70" cy="118.20" r="1.6" fill="#0f4f8a"/>
<circle cx="145.35" cy="133.55" r="1.6" fill="#0f4f8a"/>
<circle cx="146.46" cy="145.41" r="1.6" fill="#0f4f8a"/>
<circle cx="147.17" cy="147.24" r="1.6" fill="#0f4f8a"/>
<circle cx="142.62" cy="125.08" r="1.6" fill="#0f4f8a"/>
<circle cx="145.96" cy="124.79" r="1.6" fill="#0f4f8a"/>
<circle cx="148.55" cy="148.73" r="1.6" fill="#0f4f8a"/>
<circle cx="146.40" cy="135.69" r="1.6" fill="#0f4f8a"/>
<circle cx="151.74" cy="130.77" r="1.6" fill="#0f4f8a"/>
<circle cx="146.95" cy="150.51" r="1.6" fill="#0f4f8a"/>
<circle cx="148.13" cy="128.28" r="1.6" fill="#0f4f8a"/>
<circle cx="141.89" cy="130.84" r="1.6" fill="#0f4f8a"/>
<circle cx="148.52" cy="131.75" r="1.6" fill="#0f4f8a"/>
<circle cx="149.46" cy="133.87" r="1.6" fill="#0f4f8a"/>
<circle cx="144.40" cy="127.72" r="1.6" fill="#0f4f8a"/>
<circle cx="140.87" cy="128.60" r="1.6" fill="#0f4f8a"/>
<circle cx="148.00" cy="143.75" r="1.6" fill="#0f4f8a"/>
<circle cx="143.19" cy="155.18" r="1.6" fill="#0f4f8a"/>
<circle cx="150.45" cy="150.90" r="1.6" fill="#0f4f8a"/>
<circle cx="145.26" cy="121.75" r="1.6" fill="#0f4f8a"/>
<circle cx="146.99" cy="116.44" r="1.6" fill="#0f4f8a"/>
<circle cx="142.93" cy="126.40" r="1.6" fill="#0f4f8a"/>
<circle cx="144.00" cy="121.85" r="1.6" fill="#0f4f8a"/>
<circle cx="147.35" cy="122.27" r="1.6" fill="#0f4f8a"/>
<circle cx="145.08" cy="122.92" r="1.6" fill="#0f4f8a"/>
<circle cx="144.83" cy="148.93" r="1.6" fill="#0f4f8a"/>
<circle cx="151.35" cy="153.70" r="1.6" fill="#0f4f8a"/>
<circle cx="139.26" cy="124.17" r="1.6" fill="#0f4f8a"/>
<circle cx="145.86" cy="134.40" r="1.6" fill="#0f4f8a"/>
<circle cx="143.35" cy="127.01" r="1.6" fill="#0f4f8a"/>
<circle cx="146.57" cy="121.71" r="1.6" fill="#0f4f8a"/>
<circle cx="144.73" cy="121.92" r="1.6" fill="#0f4f8a"/>
<circle cx="145.72" cy="136.92" r="1.6" fill="#0f4f8a"/>
<circle cx="147.20" cy="151.45" r="1.6" fill="#0f4f8a"/>
<circle cx="147.25" cy="139.65" r="1.6" fill="#0f4f8a"/>
<circle cx="139.97" cy="133.56" r="1.6" fill="#0f4f8a"/>
<circle cx="144.19" cy="142.81" r="1.6" fill="#0f4f8a"/>
<circle cx="140.12" cy="117.01" r="1.6" fill="#0f4f8a"/>
<circle cx="144.73" cy="129.81" r="1.6" fill="#0f4f8a"/>
<circle cx="139.92" cy="136.35" r="1.6" fill="#0f4f8a"/>
<circle cx="141.41" cy="146.25" r="1.6" fill="#0f4f8a"/>
<circle cx="143.00" cy="130.16" r="1.6" fill="#0f4f8a"/>
<circle cx="145.63" cy="135.92" r="1.6" fill="#0f4f8a"/>
<circle cx="143.33" cy="134.25" r="1.6" fill="#0f4f8a"/>
<circle cx="143.41" cy="139.29" r="1.6" fill="#0f4f8a"/>
<circle cx="145.39" cy="150.90" r="1.6" fill="#0f4f8a"/>
<circle cx="147.40" cy="137.27" r="1.6" fill="#0f4f8a"/>
<circle cx="147.10" cy="149.38" r="1.6" fill="#0f4f8a"/>
<circle cx="141.15" cy="129.24" r="1.6" fill="#0f4f8a"/>
<circle cx="145.28" cy="149.05" r="1.6" fill="#0f4f8a"/>
<circle cx="147.27" cy="146.44" r="1.6" fill="#0f4f8a"/>
<circle cx="144.96" cy="117.91" r="1.6" fill="#0f4f8a"/>
<circle cx="147.92" cy="154.87" r="1.6" fill="#0f4f8a"/>
<circle cx="151.08" cy="143.70" r="1.6" fill="#0f4f8a"/>
<circle cx="143.35" cy="141.74" r="1.6" fill="#0f4f8a"/>
<circle cx="143.19" cy="141.08" r="1.6" fill="#0f4f8a"/>
<circle cx="139.30" cy="124.81" r="1.6" fill="#0f4f8a"/>
<circle cx="144.62" cy="120.10" r="1.6" fill="#0f4f8a"/>
<circle cx="148.41" cy="117.37" r="1.6" fill="#0f4f8a"/>
<circle cx="148.38" cy="143.60" r="1.6" fill="#0f4f8a"/>
<circle cx="141.74" cy="139.63" r="1.6" fill="#0f4f8a"/>
<circle cx="143.21" cy="128.61" r="1.6" fill="#0f4f8a"/>
<circle cx="141.22" cy="143.01" r="1.6" fill="#0f4f8a"/>
<circle cx="148.44" cy="139.86" r="1.6" fill="#0f4f8a"/>
<circle cx="144.40" cy="120.84" r="1.6" fill="#0f4f8a"/>
<circle cx="150.21" cy="154.75" r="1.6" fill="#0f4f8a"/>
<circle cx="151.61" cy="140.90" r="1.6" fill="#0f4f8a"/>
<circle cx="145.63" cy="135.96" r="1.6" fill="#0f4f8a"/>
<circle cx="143.73" cy="120.13" r="1.6" fill="#0f4f8a"/>
<circle cx="144.51" cy="116.46" r="1.6" fill="#0f4f8a"/>
<circle cx="147.62" cy="144.79" r="1.6" fill="#0f4f8a"/>
<circle cx="147.36" cy="152.67" r="1.6" fill="#0f4f8a"/>
<circle cx="139.48" cy="116.55" r="1.6" fill="#0f4f8a"/>
<circle cx="150.95" cy="146.90" r="1.6" fill="#0f4f8a"/>
<circle cx="149.30" cy="146.05" r="1.6" fill="#0f4f8a"/>
<circle cx="144.80" cy="119.37" r="1.6" fill="#0f4f8a"/>
<circle cx="148.46" cy="145.87" r="1.6" fill="#0f4f8a"/>
<circle cx="142.94" cy="156.69" r="1.6" fill="#0f4f8a"/>
<circle cx="141.92" cy="116.42" r="1.6" fill="#0f4f8a"/>
<circle cx="145.80" cy="150.46" r="1.6" fill="#0f4f8a"/>
<circle cx="143.52" cy="122.84" r="1.6" fill="#0f4f8a"/>
<circle cx="147.51" cy="118.33" r="1.6" fill="#0f4f8a"/>
<circle cx="145.30" cy="140.18" r="1.6" fill="#0f4f8a"/>
<circle cx="145.93" cy="149.61" r="1.6" fill="#0f4f8a"/>
<circle cx="161.91" cy="143.14" r="1.6" fill="#0f4f8a"/>
<circle cx="163.36" cy="132.16" r="1.6" fill="#0f4f8a"/>
<circle cx="166.04" cy="149.14" r="1.6" fill="#0f4f8a"/>
<circle cx="162.63" cy="139.83" r="1.6" fill="#0f4f8a"/>
<circle cx="170.76" cy="128.20" r="1.6" fill="#0f4f8a"/>
<circle cx="165.18" cy="145.62" r="1.6" fill="#0f4f8a"/>
<circle cx="160.92" cy="150.88" r="1.6" fill="#0f4f8a"/>
<circle cx="163.94" cy="157.24" r="1.6" fill="#0f4f8a"/>
<circle cx="160.86" cy="151.05" r="1.6" fill="#0f4f8a"/>
<circle cx="163.62" cy="133.97" r="1.6" fill="#0f4f8a"/>
<circle cx="159.69" cy="153.46" r="1.6" fill="#0f4f8a"/>
<circle cx="165.90" cy="141.32" r="1.6" fill="#0f4f8a"/>
<circle cx="162.53" cy="153.80" r="1.6" fill="#0f4f8a"/>
<circle cx="165.61" cy="115.87" r="1.6" fill="#0f4f8a"/>
<circle cx="163.20" cy="126.95" r="1.6" fill="#0f4f8a"/>
<circle cx="163.71" cy="150.40" r="1.6" fill="#0f4f8a"/>
<circle cx="165.81" cy="153.43" r="1.6" fill="#0f4f8a"/>
<circle cx="163.47" cy="150.22" r="1.6" fill="#0f4f8a"/>
<circle cx="160.59" cy="152.57" r="1.6" fill="#0f4f8a"/>
<circle cx="161.46" cy="151.89" r="1.6" fill="#0f4f8a"/>
<circle cx="160.60" cy="150.02" r="1.6" fill="#0f4f8a"/>
<circle cx="160.91" cy="130.51" r="1.6" fill="#0f4f8a"/>
<circle cx="163.18" cy="119.41" r="1.6" fill="#0f4f8a"/>
<circle cx="164.80" cy="124.30" r="1.6" fill="#0f4f8a"/>
<circle cx="164.18" cy="147.61" r="1.6" fill="#0f4f8a"/>
<circle cx="163.00" cy="141.53" r="1.6" fill="#0f4f8a"/>
<circle cx="161.82" cy="144.53" r="1.6" fill="#0f4f8a"/>
<circle cx="166.03" cy="126.60" r="1.6" fill="#0f4f8a"/>
<circle cx="163.39" cy="147.65" r="1.6" fill="#0f4f8a"/>
<circle cx="164.46" cy="119.52" r="1.6" fill="#0f4f8a"/>
<circle cx="162.67" cy="150.00" r="1.6" fill="#0f4f8a"/>
<circle cx="162.28" cy="140.37" r="1.6" fill="#0f4f8a"/>
<circle cx="163.84" cy="153.83" r="1.6" fill="#0f4f8a"/>
<circle cx="162.72" cy="136.01" r="1.6" fill="#0f4f8a"/>
<circle cx="164.25" cy="140.79" r="1.6" fill="#0f4f8a"/>
<circle cx="167.43" cy="123.46" r="1.6" fill="#0f4f8a"/>
<circle cx="161.32" cy="145.53" r="1.6" fill="#0f4f8a"/>
<circle cx="166.90" cy="132.87" r="1.6" fill="#0f4f8a"/>
<circle cx="164.54" cy="137.73" r="1.6" fill="#0f4f8a"/>
<circle cx="161.84" cy="158.08" r="1.6" fill="#0f4f8a"/>
<circle cx="167.35" cy="131.66" r="1.6" fill="#0f4f8a"/>
<circle cx="164.41" cy="149.18" r="1.6" fill="#0f4f8a"/>
<circle cx="164.72" cy="122.42" r="1.6" fill="#0f4f8a"/>
<circle cx="163.05" cy="137.82" r="1.6" fill="#0f4f8a"/>
<circle cx="173.37" cy="116.67" r="1.6" fill="#0f4f8a"/>
<circle cx="163.44" cy="152.52" r="1.6" fill="#0f4f8a"/>
<circle cx="162.86" cy="136.42" r="1.6" fill="#0f4f8a"/>
<circle cx="161.95" cy="148.84" r="1.6" fill="#0f4f8a"/>
<circle cx="168.09" cy="133.86" r="1.6" fill="#0f4f8a"/>
<circle cx="161.20" cy="150.52" r="1.6" fill="#0f4f8a"/>
<circle cx="161.51" cy="156.65" r="1.6" fill="#0f4f8a"/>
<circle cx="166.62" cy="124.32" r="1.6" fill="#0f4f8a"/>
<circle cx="166.75" cy="123.46" r="1.6" fill="#0f4f8a"/>
<circle cx="164.27" cy="139.43" r="1.6" fill="#0f4f8a"/>
<circle cx="157.16" cy="152.72" r="1.6" fill="#0f4f8a"/>
<circle cx="163.16" cy="154.38" r="1.6" fill="#0f4f8a"/>
<circle cx="165.12" cy="118.52" r="1.6" fill="#0f4f8a"/>
<circle cx="165.30" cy="120.88" r="1.6" fill="#0f4f8a"/>
<circle cx="161.43" cy="156.47" r="1.6" fill="#0f4f8a"/>
<circle cx="166.14" cy="142.96" r="1.6" fill="#0f4f8a"/>
<circle cx="160.56" cy="156.35" r="1.6" fill="#0f4f8a"/>
<circle cx="162.74" cy="134.81" r="1.6" fill="#0f4f8a"/>
<circle cx="172.64" cy="122.57" r="1.6" fill="#0f4f8a"/>
<circle cx="164.53" cy="125.20" r="1.6" fill="#0f4f8a"/>
<circle cx="166.93" cy="117.44" r="1.6" fill="#0f4f8a"/>
<circle cx="163.84" cy="154.08" r="1.6" fill="#0f4f8a"/>
<circle cx="162.22" cy="154.15" r="1.6" fill="#0f4f8a"/>
<circle cx="162.02" cy="149.14" r="1.6" fill="#0f4f8a"/>
<circle cx="159.34" cy="145.89" r="1.6" fill="#0f4f8a"/>
<circle cx="162.03" cy="118.16" r="1.6" fill="#0f4f8a"/>
<circle cx="166.53" cy="121.94" r="1.6" fill="#0f4f8a"/>
<circle cx="158.25" cy="144.50" r="1.6" fill="#0f4f8a"/>
<circle cx="162.49" cy="128.47" r="1.6" fill="#0f4f8a"/>
<circle cx="164.68" cy="120.27" r="1.6" fill="#0f4f8a"/>
<circle cx="165.26" cy="129.53" r="1.6" fill="#0f4f8a"/>
<circle cx="165.46" cy="136.21" r="1.6" fill="#0f4f8a"/>
<circle cx="166.32" cy="122.95" r="1.6" fill="#0f4f8a"/>
<circle cx="164.38" cy="144.53" r="1.6" fill="#0f4f8a"/>
<circle cx="166.87" cy="116.33" r="1.6" fill="#0f4f8a"/>
<circle cx="165.66" cy="117.33" r="1.6" fill="#0f4f8a"/>
<circle cx="162.64" cy="155.13" r="1.6" fill="#0f4f8a"/>
<circle cx="166.91" cy="152.55" r="1.6" fill="#0f4f8a"/>
<circle cx="163.43" cy="153.48" r="1.6" fill="#0f4f8a"/>
<circle cx="168.41" cy="119.91" r="1.6" fill="#0f4f8a"/>
<circle cx="163.35" cy="155.18" r="1.6" fill="#0f4f8a"/>
<circle cx="162.08" cy="134.98" r="1.6" fill="#0f4f8a"/>
<circle cx="166.28" cy="130.21" r="1.6" fill="#0f4f8a"/>
<circle cx="161.37" cy="142.43" r="1.6" fill="#0f4f8a"/>
<circle cx="166.51" cy="121.85" r="1.6" fill="#0f4f8a"/>
<circle cx="163.71" cy="146.06" r="1.6" fill="#0f4f8a"/>
<circle cx="166.56" cy="139.26" r="1.6" fill="#0f4f8a"/>
<circle cx="169.00" cy="127.10" r="1.6" fill="#0f4f8a"/>
<circle cx="165.72" cy="133.26" r="1.6" fill="#0f4f8a"/>
<circle cx="163.65" cy="151.40" r="1.6" fill="#0f4f8a"/>
<circle cx="166.45" cy="129.98" r="1.6" fill="#0f4f8a"/>
<circle cx="167.47" cy="129.29" r="1.6" fill="#0f4f8a"/>
<circle cx="166.27" cy="154.09" r="1.6" fill="#0f4f8a"/>
<circle cx="170.72" cy="118.21" r="1.6" fill="#0f4f8a"/>
<circle cx="161.22" cy="153.75" r="1.6" fill="#0f4f8a"/>
<circle cx="163.14" cy="136.04" r="1.6" fill="#0f4f8a"/>
<circle cx="165.47" cy="127.94" r="1.6" fill="#0f4f8a"/>
<circle cx="166.48" cy="131.25" r="1.6" fill="#0f4f8a"/>
<circle cx="166.15" cy="157.82" r="1.6" fill="#0f4f8a"/>
<circle cx="166.59" cy="119.94" r="1.6" fill="#0f4f8a"/>
<circle cx="166.09" cy="128.07" r="1.6" fill="#0f4f8a"/>
<circle cx="162.49" cy="146.60" r="1.6" fill="#0f4f8a"/>
<circle cx="165.87" cy="128.25" r="1.6" fill="#0f4f8a"/>
<circle cx="162.40" cy="150.02" r="1.6" fill="#0f4f8a"/>
<circle cx="165.29" cy="130.25" r="1.6" fill="#0f4f8a"/>
<circle cx="162.40" cy="151.09" r="1.6" fill="#0f4f8a"/>
<circle cx="164.99" cy="138.13" r="1.6" fill="#0f4f8a"/>
<circle cx="163.90" cy="154.47" r="1.6" fill="#0f4f8a"/>
<circle cx="164.90" cy="125.05" r="1.6" fill="#0f4f8a"/>
<circle cx="165.67" cy="123.44" r="1.6" fill="#0f4f8a"/>
<circle cx="162.34" cy="148.47" r="1.6" fill="#0f4f8a"/>
<circle cx="165.41" cy="119.16" r="1.6" fill="#0f4f8a"/>
<circle cx="164.80" cy="119.51" r="1.6" fill="#0f4f8a"/>
<circle cx="164.06" cy="127.41" r="1.6" fill="#0f4f8a"/>
<circle cx="163.50" cy="124.54" r="1.6" fill="#0f4f8a"/>
<circle cx="160.29" cy="150.21" r="1.6" fill="#0f4f8a"/>
<circle cx="164.01" cy="140.52" r="1.6" fill="#0f4f8a"/>
<circle cx="163.63" cy="146.87" r="1.6" fill="#0f4f8a"/>
<circle cx="164.69" cy="133.10" r="1.6" fill="#0f4f8a"/>
<circle cx="161.73" cy="150.17" r="1.6" fill="#0f4f8a"/>
<circle cx="167.54" cy="130.01" r="1.6" fill="#0f4f8a"/>
<circle cx="160.79" cy="136.70" r="1.6" fill="#0f4f8a"/>
<circle cx="169.16" cy="116.45" r="1.6" fill="#0f4f8a"/>
<circle cx="160.79" cy="152.77" r="1.6" fill="#0f4f8a"/>
<circle cx="167.20" cy="127.09" r="1.6" fill="#0f4f8a"/>
<circle cx="168.70" cy="131.37" r="1.6" fill="#0f4f8a"/>
<circle cx="82.00" cy="114.40" r="1.6" fill="#0f4f8a"/>
<circle cx="120.70" cy="131.50" r="1.6" fill="#0f4f8a"/>
<circle cx="122.70" cy="127.50" r="1.6" fill="#0f4f8a"/>
<circle cx="126.00" cy="126.20" r="1.6" fill="#0f4f8a"/>
<circle cx="128.10" cy="124.10" r="1.6" fill="#0f4f8a"/>
<circle cx="133.50" cy="124.10" r="1.6" fill="#0f4f8a"/>
<circle cx="135.50" cy="138.90" r="1.6" fill="#0f4f8a"/>
<circle cx="136.80" cy="151.00" r="1.6" fill="#0f4f8a"/>
<circle cx="138.80" cy="153.70" r="1.6" fill="#0f4f8a"/>
<circle cx="104.00" cy="131.80" r="1.6" fill="#0f4f8a"/>
<circle cx="113.50" cy="132.30" r="1.6" fill="#0f4f8a"/>
<circle cx="116.50" cy="131.30" r="1.6" fill="#0f4f8a"/>
<circle cx="175.90" cy="128.20" r="1.6" fill="#0f4f8a"/>
<circle cx="175.20" cy="132.20" r="1.6" fill="#0f4f8a"/>
<circle cx="170.50" cy="136.90" r="1.6" fill="#0f4f8a"/>
<circle cx="171.10" cy="142.30" r="1.6" fill="#0f4f8a"/>
<circle cx="168.50" cy="145.70" r="1.6" fill="#0f4f8a"/>
<circle cx="169.80" cy="150.40" r="1.6" fill="#0f4f8a"/>
<circle cx="166.40" cy="155.10" r="1.6" fill="#0f4f8a"/>
<circle cx="183.40" cy="118.80" r="1.6" fill="#0f4f8a"/>
<circle cx="188.80" cy="116.60" r="1.6" fill="#0f4f8a"/>
<circle cx="92.00" cy="121.50" r="1.6" fill="#0f4f8a"/>
<circle cx="100.50" cy="124.50" r="1.6" fill="#0f4f8a"/>
<circle cx="67.90" cy="52.50" r="1.6" fill="#2fb04a"/>
<circle cx="70.60" cy="70.50" r="1.6" fill="#2fb04a"/>
<circle cx="62.30" cy="74.90" r="1.6" fill="#2fb04a"/>
<circle cx="90.00" cy="62.50" r="1.6" fill="#2fb04a"/>
<circle cx="87.30" cy="102.90" r="1.6" fill="#2fb04a"/>
<circle cx="95.40" cy="78.90" r="1.6" fill="#2fb04a"/>
<circle cx="98.90" cy="91.50" r="1.6" fill="#2fb04a"/>
<circle cx="107.50" cy="77.50" r="1.6" fill="#2fb04a"/>
<circle cx="112.40" cy="75.40" r="1.6" fill="#2fb04a"/>
<circle cx="113.70" cy="78.60" r="1.6" fill="#2fb04a"/>
<circle cx="113.70" cy="90.70" r="1.6" fill="#2fb04a"/>
<circle cx="117.50" cy="101.20" r="1.6" fill="#2fb04a"/>
<circle cx="104.00" cy="113.60" r="1.6" fill="#2fb04a"/>
<circle cx="122.30" cy="63.80" r="1.6" fill="#2fb04a"/>
<circle cx="122.30" cy="87.50" r="1.6" fill="#2fb04a"/>
<circle cx="121.00" cy="91.00" r="1.6" fill="#2fb04a"/>
<circle cx="127.70" cy="87.50" r="1.6" fill="#2fb04a"/>
<circle cx="132.50" cy="66.80" r="1.6" fill="#2fb04a"/>
<circle cx="135.20" cy="64.10" r="1.6" fill="#2fb04a"/>
<circle cx="137.70" cy="65.20" r="1.6" fill="#2fb04a"/>
<circle cx="131.70" cy="73.20" r="1.6" fill="#2fb04a"/>
<circle cx="138.50" cy="78.90" r="1.6" fill="#2fb04a"/>
<circle cx="137.70" cy="82.10" r="1.6" fill="#2fb04a"/>
<circle cx="133.60" cy="83.50" r="1.6" fill="#2fb04a"/>
<circle cx="134.40" cy="88.30" r="1.6" fill="#2fb04a"/>
<circle cx="132.50" cy="91.50" r="1.6" fill="#2fb04a"/>
<circle cx="129.00" cy="112.50" r="1.6" fill="#2fb04a"/>
<circle cx="122.80" cy="63.70" r="1.6" fill="#2fb04a"/>
<circle cx="132.30" cy="67.00" r="1.6" fill="#2fb04a"/>
<circle cx="132.10" cy="73.75" r="1.6" fill="#2fb04a"/>
<circle cx="112.40" cy="75.20" r="1.6" fill="#2fb04a"/>
<circle cx="138.80" cy="78.30" r="1.6" fill="#2fb04a"/>
<circle cx="137.60" cy="81.20" r="1.6" fill="#2fb04a"/>
<circle cx="133.80" cy="82.40" r="1.6" fill="#2fb04a"/>
<circle cx="134.50" cy="83.60" r="1.6" fill="#2fb04a"/>
<circle cx="122.50" cy="87.20" r="1.6" fill="#2fb04a"/>
<circle cx="128.30" cy="87.00" r="1.6" fill="#2fb04a"/>
<circle cx="126.30" cy="89.10" r="1.6" fill="#2fb04a"/>
<circle cx="120.60" cy="90.90" r="1.6" fill="#2fb04a"/>
<circle cx="113.40" cy="90.90" r="1.6" fill="#2fb04a"/>
<circle cx="133.60" cy="88.80" r="1.6" fill="#2fb04a"/>
<circle cx="137.70" cy="88.70" r="1.6" fill="#2fb04a"/>
<circle cx="136.00" cy="93.50" r="1.6" fill="#2fb04a"/>
<circle cx="137.40" cy="93.50" r="1.6" fill="#2fb04a"/>
<circle cx="140.80" cy="94.40" r="1.6" fill="#2fb04a"/>
<circle cx="135.00" cy="96.30" r="1.6" fill="#2fb04a"/>
<circle cx="134.50" cy="99.20" r="1.6" fill="#2fb04a"/>
<circle cx="135.00" cy="101.60" r="1.6" fill="#2fb04a"/>
<circle cx="136.40" cy="102.60" r="1.6" fill="#2fb04a"/>
<circle cx="137.90" cy="103.00" r="1.6" fill="#2fb04a"/>
<circle cx="141.70" cy="101.20" r="1.6" fill="#2fb04a"/>
<circle cx="143.20" cy="101.60" r="1.6" fill="#2fb04a"/>
<circle cx="147.50" cy="102.10" r="1.6" fill="#2fb04a"/>
<circle cx="148.50" cy="102.60" r="1.6" fill="#2fb04a"/>
<circle cx="117.20" cy="101.30" r="1.6" fill="#2fb04a"/>
<circle cx="132.10" cy="108.10" r="1.6" fill="#2fb04a"/>
<circle cx="137.90" cy="106.00" r="1.6" fill="#2fb04a"/>
<circle cx="138.80" cy="107.90" r="1.6" fill="#2fb04a"/>
<circle cx="140.80" cy="108.80" r="1.6" fill="#2fb04a"/>
<circle cx="142.70" cy="109.30" r="1.6" fill="#2fb04a"/>
<circle cx="137.40" cy="110.80" r="1.6" fill="#2fb04a"/>
<circle cx="136.00" cy="111.70" r="1.6" fill="#2fb04a"/>
<circle cx="148.00" cy="109.30" r="1.6" fill="#2fb04a"/>
<circle cx="148.50" cy="111.30" r="1.6" fill="#2fb04a"/>
<circle cx="149.40" cy="113.20" r="1.6" fill="#2fb04a"/>
<circle cx="129.20" cy="112.90" r="1.6" fill="#2fb04a"/>
<circle cx="139.50" cy="112.60" r="1.6" fill="#2fb04a"/>
<circle cx="141.50" cy="113.80" r="1.6" fill="#2fb04a"/>
<circle cx="143.50" cy="112.50" r="1.6" fill="#2fb04a"/>
<circle cx="145.00" cy="114.00" r="1.6" fill="#2fb04a"/>
<circle cx="138.00" cy="114.30" r="1.6" fill="#2fb04a"/>
<circle cx="140.00" cy="104.50" r="1.6" fill="#2fb04a"/>
<circle cx="136.50" cy="98.00" r="1.6" fill="#2fb04a"/>
<circle cx="138.50" cy="100.00" r="1.6" fill="#2fb04a"/>
<circle cx="146.00" cy="105.00" r="1.6" fill="#2fb04a"/>
<circle cx="144.50" cy="107.50" r="1.6" fill="#2fb04a"/>
<circle cx="147.00" cy="113.50" r="1.6" fill="#2fb04a"/>
<circle cx="223.50" cy="97.90" r="1.6" fill="#2fb04a"/>
<circle cx="217.20" cy="112.90" r="1.6" fill="#2fb04a"/>
<circle cx="193.30" cy="103.00" r="1.6" fill="#2fb04a"/>
<circle cx="188.20" cy="98.20" r="1.6" fill="#2fb04a"/>
<circle cx="181.70" cy="110.00" r="1.6" fill="#2fb04a"/>
<circle cx="174.20" cy="75.60" r="1.6" fill="#2fb04a"/>
<circle cx="173.30" cy="77.00" r="1.6" fill="#2fb04a"/>
<circle cx="178.80" cy="79.40" r="1.6" fill="#2fb04a"/>
<circle cx="174.20" cy="87.10" r="1.6" fill="#2fb04a"/>
<circle cx="175.70" cy="88.10" r="1.6" fill="#2fb04a"/>
<circle cx="174.70" cy="89.50" r="1.6" fill="#2fb04a"/>
<circle cx="171.80" cy="91.00" r="1.6" fill="#2fb04a"/>
<circle cx="177.30" cy="96.30" r="1.6" fill="#2fb04a"/>
<circle cx="176.60" cy="97.70" r="1.6" fill="#2fb04a"/>
<circle cx="172.50" cy="102.50" r="1.6" fill="#2fb04a"/>
<circle cx="178.10" cy="101.10" r="1.6" fill="#2fb04a"/>
<circle cx="180.50" cy="100.60" r="1.6" fill="#2fb04a"/>
<circle cx="178.60" cy="106.20" r="1.6" fill="#2fb04a"/>
<circle cx="166.50" cy="104.00" r="1.6" fill="#2fb04a"/>
<circle cx="165.60" cy="104.40" r="1.6" fill="#2fb04a"/>
<circle cx="181.00" cy="110.20" r="1.6" fill="#2fb04a"/>
<circle cx="181.40" cy="111.00" r="1.6" fill="#2fb04a"/>
<circle cx="167.50" cy="107.80" r="1.6" fill="#2fb04a"/>
<circle cx="166.00" cy="109.00" r="1.6" fill="#2fb04a"/>
<circle cx="169.00" cy="108.50" r="1.6" fill="#2fb04a"/>
<circle cx="172.30" cy="109.30" r="1.6" fill="#2fb04a"/>
<circle cx="171.30" cy="110.30" r="1.6" fill="#2fb04a"/>
<circle cx="169.40" cy="111.20" r="1.6" fill="#2fb04a"/>
<circle cx="167.00" cy="112.20" r="1.6" fill="#2fb04a"/>
<circle cx="170.40" cy="112.70" r="1.6" fill="#2fb04a"/>
<circle cx="172.80" cy="113.20" r="1.6" fill="#2fb04a"/>
<circle cx="167.50" cy="113.60" r="1.6" fill="#2fb04a"/>
<circle cx="165.20" cy="113.40" r="1.6" fill="#2fb04a"/>
<circle cx="170.00" cy="114.40" r="1.6" fill="#2fb04a"/>
<circle cx="173.50" cy="111.50" r="1.6" fill="#2fb04a"/>
<circle cx="164.80" cy="110.50" r="1.6" fill="#2fb04a"/>
<text x="65.80" y="28.41" font-size="7.8" stroke="#231f20" textLength="26.4" lengthAdjust="spacingAndGlyphs">VEGFA</text>
<text x="46.90" y="46.71" font-size="7.8" stroke="#231f20" textLength="26.4" lengthAdjust="spacingAndGlyphs">XCL1/2</text>
<text x="79.20" y="58.51" font-size="7.8" stroke="#231f20" textLength="22.1" lengthAdjust="spacingAndGlyphs">ITGA1</text>
<text x="42.90" y="84.91" font-size="7.8" stroke="#231f20" textLength="30.9" lengthAdjust="spacingAndGlyphs">COL6A3</text>
<text x="57.70" y="105.71" font-size="7.8" stroke="#231f20" textLength="24.2" lengthAdjust="spacingAndGlyphs">CD40L</text>
<text x="178.80" y="41.51" font-size="7.8" stroke="#231f20" textLength="21.7" lengthAdjust="spacingAndGlyphs">CD8B</text>
<text x="192.70" y="56.51" font-size="7.8" stroke="#231f20" textLength="13.5" lengthAdjust="spacingAndGlyphs">LTB</text>
<text x="199.60" y="79.91" font-size="7.8" stroke="#231f20" textLength="24.8" lengthAdjust="spacingAndGlyphs">FOXP3</text>
<text x="222.10" y="92.61" font-size="7.8" stroke="#231f20" textLength="31.2" lengthAdjust="spacingAndGlyphs">PDGFRB</text>
<text x="219.80" y="108.81" font-size="7.8" stroke="#231f20" textLength="24.8" lengthAdjust="spacingAndGlyphs">CXCL9</text>
<line x1="79.30" y1="30.50" x2="73.20" y2="66.00" stroke="#222" stroke-width="0.85"/>
<polygon points="73.20,66.00 72.43,61.61 75.39,62.11" fill="#111"/>
<line x1="188.90" y1="43.50" x2="182.40" y2="105.60" stroke="#222" stroke-width="0.85"/>
<polygon points="182.40,105.60 181.35,101.27 184.33,101.58" fill="#111"/>
<line x1="196.10" y1="58.00" x2="189.10" y2="93.20" stroke="#222" stroke-width="0.85"/>
<polygon points="189.10,93.20 188.45,88.79 191.39,89.37" fill="#111"/>
<line x1="205.50" y1="83.50" x2="196.30" y2="99.30" stroke="#222" stroke-width="0.85"/>
<polygon points="196.30,99.30 197.12,94.92 199.71,96.43" fill="#111"/>
<text x="307.60" y="15.60" font-size="11.8" font-weight="bold" fill="#000" stroke="#000" stroke-width="0.3">B</text>
<line x1="344.80" y1="24.10" x2="344.80" y2="115.40" stroke="#2b2b2b" stroke-width="1.2"/>
<line x1="342.20" y1="24.60" x2="344.80" y2="24.60" stroke="#2b2b2b" stroke-width="1"/>
<text x="338.60" y="27.55" font-size="8.2" text-anchor="end" stroke="#231f20">6</text>
<line x1="342.20" y1="39.60" x2="344.80" y2="39.60" stroke="#2b2b2b" stroke-width="1"/>
<text x="338.60" y="42.55" font-size="8.2" text-anchor="end" stroke="#231f20">4</text>
<line x1="342.20" y1="54.60" x2="344.80" y2="54.60" stroke="#2b2b2b" stroke-width="1"/>
<text x="338.60" y="57.55" font-size="8.2" text-anchor="end" stroke="#231f20">2</text>
<line x1="342.20" y1="69.60" x2="344.80" y2="69.60" stroke="#2b2b2b" stroke-width="1"/>
<text x="338.60" y="72.55" font-size="8.2" text-anchor="end" stroke="#231f20">0</text>
<line x1="342.20" y1="84.60" x2="344.80" y2="84.60" stroke="#2b2b2b" stroke-width="1"/>
<text x="338.60" y="87.55" font-size="8.2" text-anchor="end" stroke="#231f20">−2</text>
<line x1="342.20" y1="99.60" x2="344.80" y2="99.60" stroke="#2b2b2b" stroke-width="1"/>
<text x="338.60" y="102.55" font-size="8.2" text-anchor="end" stroke="#231f20">−4</text>
<line x1="342.20" y1="114.60" x2="344.80" y2="114.60" stroke="#2b2b2b" stroke-width="1"/>
<text x="338.60" y="117.55" font-size="8.2" text-anchor="end" stroke="#231f20">−6</text>
<line x1="344.20" y1="114.80" x2="405.00" y2="114.80" stroke="#2b2b2b" stroke-width="1.2"/>
<line x1="362.10" y1="114.80" x2="362.10" y2="117.40" stroke="#2b2b2b" stroke-width="1"/>
<line x1="387.90" y1="114.80" x2="387.90" y2="117.40" stroke="#2b2b2b" stroke-width="1"/>
<line x1="362.00" y1="22.30" x2="388.00" y2="22.30" stroke="#5a5a5a" stroke-width="1.5"/>
<polygon points="372.70,14.95 373.26,16.33 374.74,16.44 373.60,17.39 373.96,18.84 372.70,18.05 371.44,18.84 371.80,17.39 370.66,16.44 372.14,16.33" fill="#111"/>
<polygon points="377.10,14.95 377.66,16.33 379.14,16.44 378.00,17.39 378.36,18.84 377.10,18.05 375.84,18.84 376.20,17.39 375.06,16.44 376.54,16.33" fill="#111"/>
<text x="315.90" y="69.80" font-size="9.4" text-anchor="middle" stroke="#231f20" textLength="98.0" lengthAdjust="spacingAndGlyphs" transform="rotate(-90 315.90 69.80)">TCR &amp; costimulatory signaling</text>
<text x="327.40" y="69.50" font-size="9.4" text-anchor="middle" stroke="#231f20" textLength="46.3" lengthAdjust="spacingAndGlyphs" transform="rotate(-90 327.40 69.50)">pathway score</text>
<text x="0" y="0" font-size="8.4" stroke="#231f20" text-anchor="end" textLength="45.0" lengthAdjust="spacingAndGlyphs" transform="translate(365.50,121.00) rotate(-45)">0.1% DMSO</text>
<text x="0" y="0" font-size="8.4" stroke="#231f20" text-anchor="end" textLength="59.5" lengthAdjust="spacingAndGlyphs" transform="translate(391.50,121.00) rotate(-45)">300nM duvelisib</text>
<line x1="345.50" y1="69.70" x2="405.50" y2="69.70" stroke="#333" stroke-width="1.0" stroke-dasharray="1.1 2.1"/>
<path d="M362.00,54.00 C361.42,54.02 359.42,53.43 358.70,54.10 C357.98,54.77 358.02,56.63 357.70,58.00 C357.38,59.37 357.27,60.62 356.80,62.30 C356.33,63.98 355.40,66.07 354.90,68.10 C354.40,70.13 353.77,72.58 353.80,74.50 C353.83,76.42 354.35,77.98 355.10,79.60 C355.85,81.22 357.55,82.47 358.30,84.20 C359.05,85.93 359.30,88.27 359.60,90.00 C359.90,91.73 360.00,93.07 360.10,94.60 C360.20,96.13 360.27,97.85 360.20,99.20 C360.13,100.55 359.75,101.67 359.70,102.70 C359.65,103.73 359.52,104.92 359.90,105.40 C360.28,105.88 361.62,105.57 362.00,105.60 C362.38,105.63 361.82,105.63 362.20,105.60 C362.58,105.57 363.92,105.88 364.30,105.40 C364.68,104.92 364.55,103.73 364.50,102.70 C364.45,101.67 364.07,100.55 364.00,99.20 C363.93,97.85 364.00,96.13 364.10,94.60 C364.20,93.07 364.30,91.73 364.60,90.00 C364.90,88.27 365.15,85.93 365.90,84.20 C366.65,82.47 368.35,81.22 369.10,79.60 C369.85,77.98 370.37,76.42 370.40,74.50 C370.43,72.58 369.80,70.13 369.30,68.10 C368.80,66.07 367.87,63.98 367.40,62.30 C366.93,60.62 366.82,59.37 366.50,58.00 C366.18,56.63 366.22,54.77 365.50,54.10 C364.78,53.43 362.78,54.02 362.20,54.00 Z" fill="none" stroke="#cc1029" stroke-width="1.1" stroke-linejoin="round"/>
<line x1="357.10" y1="63.20" x2="367.10" y2="63.20" stroke="#cc1029" stroke-width="0.6" opacity="0.35"/>
<line x1="358.50" y1="84.20" x2="365.70" y2="84.20" stroke="#cc1029" stroke-width="0.6" opacity="0.35"/>
<line x1="354.50" y1="74.40" x2="369.70" y2="74.40" stroke="#333" stroke-width="0.9" stroke-dasharray="1 1.4"/>
<circle cx="362.10" cy="54.20" r="1.3" fill="#cc1029"/>
<circle cx="356.40" cy="62.30" r="1.3" fill="#cc1029"/>
<circle cx="362.10" cy="64.60" r="1.3" fill="#cc1029"/>
<circle cx="356.20" cy="74.40" r="1.3" fill="#cc1029"/>
<circle cx="362.10" cy="75.60" r="1.3" fill="#cc1029"/>
<circle cx="368.10" cy="74.40" r="1.3" fill="#cc1029"/>
<circle cx="362.10" cy="80.20" r="1.3" fill="#cc1029"/>
<circle cx="362.10" cy="89.80" r="1.3" fill="#cc1029"/>
<circle cx="362.10" cy="105.40" r="1.3" fill="#cc1029"/>
<path d="M387.80,39.20 C387.35,39.22 385.90,38.33 385.30,39.30 C384.70,40.27 384.82,43.00 384.20,45.00 C383.58,47.00 381.82,49.18 381.60,51.30 C381.38,53.42 382.62,55.87 382.90,57.70 C383.18,59.53 383.57,60.57 383.30,62.30 C383.03,64.03 381.88,66.40 381.30,68.10 C380.72,69.80 379.70,70.77 379.80,72.50 C379.90,74.23 381.15,76.83 381.90,78.50 C382.65,80.17 383.70,81.42 384.30,82.50 C384.90,83.58 384.92,84.55 385.50,85.00 C386.08,85.45 387.38,85.17 387.80,85.20 C388.22,85.23 387.58,85.23 388.00,85.20 C388.42,85.17 389.72,85.45 390.30,85.00 C390.88,84.55 390.90,83.58 391.50,82.50 C392.10,81.42 393.15,80.17 393.90,78.50 C394.65,76.83 395.90,74.23 396.00,72.50 C396.10,70.77 395.08,69.80 394.50,68.10 C393.92,66.40 392.77,64.03 392.50,62.30 C392.23,60.57 392.62,59.53 392.90,57.70 C393.18,55.87 394.42,53.42 394.20,51.30 C393.98,49.18 392.22,47.00 391.60,45.00 C390.98,43.00 391.10,40.27 390.50,39.30 C389.90,38.33 388.45,39.22 388.00,39.20 Z" fill="none" stroke="#0f4f8a" stroke-width="1.1" stroke-linejoin="round"/>
<line x1="381.90" y1="52.50" x2="393.90" y2="52.50" stroke="#0f4f8a" stroke-width="0.6" opacity="0.35"/>
<line x1="380.40" y1="74.40" x2="395.40" y2="74.40" stroke="#0f4f8a" stroke-width="0.6" opacity="0.35"/>
<line x1="382.10" y1="66.00" x2="393.70" y2="66.00" stroke="#333" stroke-width="0.9" stroke-dasharray="1 1.4"/>
<circle cx="387.90" cy="39.40" r="1.3" fill="#0f4f8a"/>
<circle cx="382.50" cy="51.30" r="1.3" fill="#0f4f8a"/>
<circle cx="387.90" cy="52.80" r="1.3" fill="#0f4f8a"/>
<circle cx="387.90" cy="58.30" r="1.3" fill="#0f4f8a"/>
<circle cx="387.90" cy="66.00" r="1.3" fill="#0f4f8a"/>
<circle cx="382.30" cy="71.80" r="1.3" fill="#0f4f8a"/>
<circle cx="387.90" cy="74.40" r="1.3" fill="#0f4f8a"/>
<circle cx="393.50" cy="73.30" r="1.3" fill="#0f4f8a"/>
<circle cx="387.90" cy="85.00" r="1.3" fill="#0f4f8a"/>
<line x1="447.70" y1="21.40" x2="447.70" y2="114.40" stroke="#2b2b2b" stroke-width="1.2"/>
<line x1="445.10" y1="21.90" x2="447.70" y2="21.90" stroke="#2b2b2b" stroke-width="1"/>
<text x="441.50" y="24.85" font-size="8.2" text-anchor="end" stroke="#231f20">4</text>
<line x1="445.10" y1="44.90" x2="447.70" y2="44.90" stroke="#2b2b2b" stroke-width="1"/>
<text x="441.50" y="47.85" font-size="8.2" text-anchor="end" stroke="#231f20">2</text>
<line x1="445.10" y1="67.90" x2="447.70" y2="67.90" stroke="#2b2b2b" stroke-width="1"/>
<text x="441.50" y="70.85" font-size="8.2" text-anchor="end" stroke="#231f20">0</text>
<line x1="445.10" y1="90.90" x2="447.70" y2="90.90" stroke="#2b2b2b" stroke-width="1"/>
<text x="441.50" y="93.85" font-size="8.2" text-anchor="end" stroke="#231f20">−2</text>
<line x1="445.10" y1="113.90" x2="447.70" y2="113.90" stroke="#2b2b2b" stroke-width="1"/>
<text x="441.50" y="116.85" font-size="8.2" text-anchor="end" stroke="#231f20">−4</text>
<line x1="447.10" y1="113.80" x2="508.40" y2="113.80" stroke="#2b2b2b" stroke-width="1.2"/>
<line x1="465.00" y1="113.80" x2="465.00" y2="116.40" stroke="#2b2b2b" stroke-width="1"/>
<line x1="491.00" y1="113.80" x2="491.00" y2="116.40" stroke="#2b2b2b" stroke-width="1"/>
<line x1="464.00" y1="16.40" x2="489.60" y2="16.40" stroke="#5a5a5a" stroke-width="1.5"/>
<polygon points="474.80,9.55 475.36,10.93 476.84,11.04 475.70,11.99 476.06,13.44 474.80,12.65 473.54,13.44 473.90,11.99 472.76,11.04 474.24,10.93" fill="#111"/>
<polygon points="479.20,9.55 479.76,10.93 481.24,11.04 480.10,11.99 480.46,13.44 479.20,12.65 477.94,13.44 478.30,11.99 477.16,11.04 478.64,10.93" fill="#111"/>
<text x="428.10" y="67.70" font-size="9.4" text-anchor="middle" stroke="#231f20" textLength="70.0" lengthAdjust="spacingAndGlyphs" transform="rotate(-90 428.10 67.70)">NF-κβ pathway score</text>
<text x="0" y="0" font-size="8.4" stroke="#231f20" text-anchor="end" textLength="45.0" lengthAdjust="spacingAndGlyphs" transform="translate(468.50,120.50) rotate(-45)">0.1% DMSO</text>
<text x="0" y="0" font-size="8.4" stroke="#231f20" text-anchor="end" textLength="59.5" lengthAdjust="spacingAndGlyphs" transform="translate(494.80,120.50) rotate(-45)">300nM duvelisib</text>
<line x1="448.50" y1="67.90" x2="508.50" y2="67.90" stroke="#333" stroke-width="1.0" stroke-dasharray="1.1 2.1"/>
<path d="M464.70,66.30 C463.35,66.32 458.03,65.85 456.80,66.40 C455.57,66.95 457.02,68.48 457.30,69.60 C457.58,70.72 458.42,72.03 458.50,73.10 C458.58,74.17 457.80,75.05 457.80,76.00 C457.80,76.95 457.87,77.75 458.50,78.80 C459.13,79.85 460.67,81.35 461.60,82.30 C462.53,83.25 463.68,81.47 464.10,84.50 C464.52,87.53 464.28,97.42 464.10,100.50 C463.92,103.58 463.38,102.08 463.00,103.00 C462.62,103.92 462.00,105.27 461.80,106.00 C461.60,106.73 461.32,107.15 461.80,107.40 C462.28,107.65 464.18,107.48 464.70,107.50 C465.22,107.52 464.38,107.52 464.90,107.50 C465.42,107.48 467.32,107.65 467.80,107.40 C468.28,107.15 468.00,106.73 467.80,106.00 C467.60,105.27 466.98,103.92 466.60,103.00 C466.22,102.08 465.68,103.58 465.50,100.50 C465.32,97.42 465.08,87.53 465.50,84.50 C465.92,81.47 467.07,83.25 468.00,82.30 C468.93,81.35 470.47,79.85 471.10,78.80 C471.73,77.75 471.80,76.95 471.80,76.00 C471.80,75.05 471.02,74.17 471.10,73.10 C471.18,72.03 472.02,70.72 472.30,69.60 C472.58,68.48 474.03,66.95 472.80,66.40 C471.57,65.85 466.25,66.32 464.90,66.30 Z" fill="none" stroke="#cc1029" stroke-width="1.1" stroke-linejoin="round"/>
<line x1="458.80" y1="73.40" x2="470.80" y2="73.40" stroke="#333" stroke-width="0.9" stroke-dasharray="1 1.4"/>
<circle cx="459.20" cy="66.30" r="1.3" fill="#cc1029"/>
<circle cx="464.80" cy="66.00" r="1.3" fill="#cc1029"/>
<circle cx="470.50" cy="66.30" r="1.3" fill="#cc1029"/>
<circle cx="464.80" cy="70.20" r="1.3" fill="#cc1029"/>
<circle cx="464.80" cy="73.70" r="1.3" fill="#cc1029"/>
<circle cx="458.70" cy="75.40" r="1.3" fill="#cc1029"/>
<circle cx="464.80" cy="78.60" r="1.3" fill="#cc1029"/>
<circle cx="470.80" cy="77.90" r="1.3" fill="#cc1029"/>
<circle cx="464.80" cy="105.60" r="1.3" fill="#cc1029"/>
<path d="M491.10,44.70 C489.70,44.72 484.28,44.30 482.90,44.80 C481.52,45.30 482.50,46.45 482.80,47.70 C483.10,48.95 484.38,50.38 484.70,52.30 C485.02,54.22 484.45,57.28 484.70,59.20 C484.95,61.12 485.68,62.07 486.20,63.80 C486.72,65.53 487.30,67.67 487.80,69.60 C488.30,71.53 488.77,73.08 489.20,75.40 C489.63,77.72 490.32,81.20 490.40,83.50 C490.48,85.80 490.07,87.37 489.70,89.20 C489.33,91.03 488.38,93.12 488.20,94.50 C488.02,95.88 488.35,96.75 488.60,97.50 C488.85,98.25 489.28,98.73 489.70,99.00 C490.12,99.27 490.83,99.08 491.10,99.10 C491.37,99.12 491.03,99.12 491.30,99.10 C491.57,99.08 492.28,99.27 492.70,99.00 C493.12,98.73 493.55,98.25 493.80,97.50 C494.05,96.75 494.38,95.88 494.20,94.50 C494.02,93.12 493.07,91.03 492.70,89.20 C492.33,87.37 491.92,85.80 492.00,83.50 C492.08,81.20 492.77,77.72 493.20,75.40 C493.63,73.08 494.10,71.53 494.60,69.60 C495.10,67.67 495.68,65.53 496.20,63.80 C496.72,62.07 497.45,61.12 497.70,59.20 C497.95,57.28 497.38,54.22 497.70,52.30 C498.02,50.38 499.30,48.95 499.60,47.70 C499.90,46.45 500.88,45.30 499.50,44.80 C498.12,44.30 492.70,44.72 491.30,44.70 Z" fill="none" stroke="#0f4f8a" stroke-width="1.1" stroke-linejoin="round"/>
<line x1="483.70" y1="47.50" x2="498.70" y2="47.50" stroke="#0f4f8a" stroke-width="0.6" opacity="0.35"/>
<line x1="485.00" y1="59.50" x2="497.40" y2="59.50" stroke="#333" stroke-width="0.9" stroke-dasharray="1 1.4"/>
<circle cx="485.80" cy="46.50" r="1.3" fill="#0f4f8a"/>
<circle cx="491.20" cy="47.10" r="1.3" fill="#0f4f8a"/>
<circle cx="496.70" cy="46.00" r="1.3" fill="#0f4f8a"/>
<circle cx="491.20" cy="59.50" r="1.3" fill="#0f4f8a"/>
<circle cx="491.20" cy="71.00" r="1.3" fill="#0f4f8a"/>
<circle cx="491.20" cy="97.90" r="1.3" fill="#0f4f8a"/>
<line x1="348.60" y1="186.20" x2="348.60" y2="277.90" stroke="#2b2b2b" stroke-width="1.2"/>
<line x1="346.00" y1="186.70" x2="348.60" y2="186.70" stroke="#2b2b2b" stroke-width="1"/>
<text x="342.40" y="189.65" font-size="8.2" text-anchor="end" stroke="#231f20">4</text>
<line x1="346.00" y1="209.30" x2="348.60" y2="209.30" stroke="#2b2b2b" stroke-width="1"/>
<text x="342.40" y="212.25" font-size="8.2" text-anchor="end" stroke="#231f20">2</text>
<line x1="346.00" y1="231.90" x2="348.60" y2="231.90" stroke="#2b2b2b" stroke-width="1"/>
<text x="342.40" y="234.85" font-size="8.2" text-anchor="end" stroke="#231f20">0</text>
<line x1="346.00" y1="254.50" x2="348.60" y2="254.50" stroke="#2b2b2b" stroke-width="1"/>
<text x="342.40" y="257.45" font-size="8.2" text-anchor="end" stroke="#231f20">−2</text>
<line x1="346.00" y1="277.10" x2="348.60" y2="277.10" stroke="#2b2b2b" stroke-width="1"/>
<text x="342.40" y="280.05" font-size="8.2" text-anchor="end" stroke="#231f20">−4</text>
<line x1="348.00" y1="277.30" x2="408.40" y2="277.30" stroke="#2b2b2b" stroke-width="1.2"/>
<line x1="366.20" y1="277.30" x2="366.20" y2="279.90" stroke="#2b2b2b" stroke-width="1"/>
<line x1="392.40" y1="277.30" x2="392.40" y2="279.90" stroke="#2b2b2b" stroke-width="1"/>
<line x1="365.00" y1="180.80" x2="390.00" y2="180.80" stroke="#5a5a5a" stroke-width="1.5"/>
<polygon points="373.20,173.75 373.76,175.13 375.24,175.24 374.10,176.19 374.46,177.64 373.20,176.85 371.94,177.64 372.30,176.19 371.16,175.24 372.64,175.13" fill="#111"/>
<polygon points="377.60,173.75 378.16,175.13 379.64,175.24 378.50,176.19 378.86,177.64 377.60,176.85 376.34,177.64 376.70,176.19 375.56,175.24 377.04,175.13" fill="#111"/>
<polygon points="382.00,173.75 382.56,175.13 384.04,175.24 382.90,176.19 383.26,177.64 382.00,176.85 380.74,177.64 381.10,176.19 379.96,175.24 381.44,175.13" fill="#111"/>
<text x="330.00" y="231.40" font-size="9.4" text-anchor="middle" stroke="#231f20" textLength="67.9" lengthAdjust="spacingAndGlyphs" transform="rotate(-90 330.00 231.40)">MAPK pathway score</text>
<text x="0" y="0" font-size="8.4" stroke="#231f20" text-anchor="end" textLength="45.0" lengthAdjust="spacingAndGlyphs" transform="translate(368.50,284.00) rotate(-45)">0.1% DMSO</text>
<text x="0" y="0" font-size="8.4" stroke="#231f20" text-anchor="end" textLength="59.5" lengthAdjust="spacingAndGlyphs" transform="translate(395.00,283.50) rotate(-45)">300nM duvelisib</text>
<line x1="349.50" y1="232.10" x2="408.50" y2="232.10" stroke="#333" stroke-width="1.0" stroke-dasharray="1.1 2.1"/>
<path d="M365.80,220.50 C364.88,220.52 361.30,219.92 360.50,220.60 C359.70,221.28 360.68,222.97 361.00,224.60 C361.32,226.23 362.17,228.08 362.40,230.40 C362.63,232.72 362.58,236.00 362.40,238.50 C362.22,241.00 361.80,243.48 361.30,245.40 C360.80,247.32 359.90,248.57 359.40,250.00 C358.90,251.43 358.38,252.67 358.30,254.00 C358.22,255.33 358.47,257.03 358.90,258.00 C359.33,258.97 359.75,259.48 360.90,259.80 C362.05,260.12 364.95,259.88 365.80,259.90 C366.65,259.92 365.15,259.92 366.00,259.90 C366.85,259.88 369.75,260.12 370.90,259.80 C372.05,259.48 372.47,258.97 372.90,258.00 C373.33,257.03 373.58,255.33 373.50,254.00 C373.42,252.67 372.90,251.43 372.40,250.00 C371.90,248.57 371.00,247.32 370.50,245.40 C370.00,243.48 369.58,241.00 369.40,238.50 C369.22,236.00 369.17,232.72 369.40,230.40 C369.63,228.08 370.48,226.23 370.80,224.60 C371.12,222.97 372.10,221.28 371.30,220.60 C370.50,219.92 366.92,220.52 366.00,220.50 Z" fill="none" stroke="#cc1029" stroke-width="1.1" stroke-linejoin="round"/>
<line x1="361.40" y1="225.80" x2="370.40" y2="225.80" stroke="#cc1029" stroke-width="0.6" opacity="0.35"/>
<line x1="358.90" y1="255.20" x2="372.90" y2="255.20" stroke="#cc1029" stroke-width="0.6" opacity="0.35"/>
<line x1="361.40" y1="246.30" x2="370.40" y2="246.30" stroke="#333" stroke-width="0.9" stroke-dasharray="1 1.4"/>
<circle cx="360.40" cy="220.40" r="1.3" fill="#cc1029"/>
<circle cx="365.90" cy="222.90" r="1.3" fill="#cc1029"/>
<circle cx="365.90" cy="229.20" r="1.3" fill="#cc1029"/>
<circle cx="365.90" cy="237.10" r="1.3" fill="#cc1029"/>
<circle cx="365.90" cy="246.30" r="1.3" fill="#cc1029"/>
<circle cx="360.60" cy="253.80" r="1.3" fill="#cc1029"/>
<circle cx="365.90" cy="255.50" r="1.3" fill="#cc1029"/>
<circle cx="371.30" cy="254.60" r="1.3" fill="#cc1029"/>
<circle cx="365.90" cy="259.80" r="1.3" fill="#cc1029"/>
<path d="M391.80,197.10 C391.02,197.12 388.02,196.47 387.30,197.20 C386.58,197.93 387.32,199.82 387.50,201.50 C387.68,203.18 388.22,205.37 388.40,207.30 C388.58,209.23 388.77,210.88 388.60,213.10 C388.43,215.32 387.68,218.68 387.40,220.60 C387.12,222.52 387.23,223.17 386.90,224.60 C386.57,226.03 385.97,227.57 385.40,229.20 C384.83,230.83 383.42,232.85 383.50,234.40 C383.58,235.95 385.00,237.45 385.90,238.50 C386.80,239.55 387.92,240.32 388.90,240.70 C389.88,241.08 391.28,240.78 391.80,240.80 C392.32,240.82 391.48,240.82 392.00,240.80 C392.52,240.78 393.92,241.08 394.90,240.70 C395.88,240.32 397.00,239.55 397.90,238.50 C398.80,237.45 400.22,235.95 400.30,234.40 C400.38,232.85 398.97,230.83 398.40,229.20 C397.83,227.57 397.23,226.03 396.90,224.60 C396.57,223.17 396.68,222.52 396.40,220.60 C396.12,218.68 395.37,215.32 395.20,213.10 C395.03,210.88 395.22,209.23 395.40,207.30 C395.58,205.37 396.12,203.18 396.30,201.50 C396.48,199.82 397.22,197.93 396.50,197.20 C395.78,196.47 392.78,197.12 392.00,197.10 Z" fill="none" stroke="#0f4f8a" stroke-width="1.1" stroke-linejoin="round"/>
<line x1="388.40" y1="206.00" x2="395.40" y2="206.00" stroke="#0f4f8a" stroke-width="0.6" opacity="0.35"/>
<line x1="383.90" y1="234.60" x2="399.90" y2="234.60" stroke="#0f4f8a" stroke-width="0.6" opacity="0.35"/>
<line x1="387.40" y1="220.90" x2="396.40" y2="220.90" stroke="#333" stroke-width="0.9" stroke-dasharray="1 1.4"/>
<circle cx="391.90" cy="197.30" r="1.3" fill="#0f4f8a"/>
<circle cx="391.90" cy="201.20" r="1.3" fill="#0f4f8a"/>
<circle cx="391.90" cy="211.00" r="1.3" fill="#0f4f8a"/>
<circle cx="387.50" cy="220.90" r="1.3" fill="#0f4f8a"/>
<circle cx="391.90" cy="220.90" r="1.3" fill="#0f4f8a"/>
<circle cx="396.30" cy="220.90" r="1.3" fill="#0f4f8a"/>
<circle cx="386.30" cy="233.80" r="1.3" fill="#0f4f8a"/>
<circle cx="391.90" cy="234.80" r="1.3" fill="#0f4f8a"/>
<circle cx="397.30" cy="234.80" r="1.3" fill="#0f4f8a"/>
<circle cx="391.90" cy="240.60" r="1.3" fill="#0f4f8a"/>
<line x1="453.40" y1="182.90" x2="453.40" y2="275.60" stroke="#2b2b2b" stroke-width="1.2"/>
<line x1="450.80" y1="183.40" x2="453.40" y2="183.40" stroke="#2b2b2b" stroke-width="1"/>
<text x="447.20" y="186.35" font-size="8.2" text-anchor="end" stroke="#231f20">6</text>
<line x1="450.80" y1="198.70" x2="453.40" y2="198.70" stroke="#2b2b2b" stroke-width="1"/>
<text x="447.20" y="201.65" font-size="8.2" text-anchor="end" stroke="#231f20">4</text>
<line x1="450.80" y1="214.00" x2="453.40" y2="214.00" stroke="#2b2b2b" stroke-width="1"/>
<text x="447.20" y="216.95" font-size="8.2" text-anchor="end" stroke="#231f20">2</text>
<line x1="450.80" y1="229.30" x2="453.40" y2="229.30" stroke="#2b2b2b" stroke-width="1"/>
<text x="447.20" y="232.25" font-size="8.2" text-anchor="end" stroke="#231f20">0</text>
<line x1="450.80" y1="244.60" x2="453.40" y2="244.60" stroke="#2b2b2b" stroke-width="1"/>
<text x="447.20" y="247.55" font-size="8.2" text-anchor="end" stroke="#231f20">−2</text>
<line x1="450.80" y1="259.90" x2="453.40" y2="259.90" stroke="#2b2b2b" stroke-width="1"/>
<text x="447.20" y="262.85" font-size="8.2" text-anchor="end" stroke="#231f20">−4</text>
<line x1="450.80" y1="275.20" x2="453.40" y2="275.20" stroke="#2b2b2b" stroke-width="1"/>
<text x="447.20" y="278.15" font-size="8.2" text-anchor="end" stroke="#231f20">−6</text>
<line x1="452.80" y1="275.00" x2="514.50" y2="275.00" stroke="#2b2b2b" stroke-width="1.2"/>
<line x1="471.20" y1="275.00" x2="471.20" y2="277.60" stroke="#2b2b2b" stroke-width="1"/>
<line x1="497.20" y1="275.00" x2="497.20" y2="277.60" stroke="#2b2b2b" stroke-width="1"/>
<line x1="470.00" y1="178.00" x2="495.00" y2="178.00" stroke="#5a5a5a" stroke-width="1.5"/>
<polygon points="480.80,170.55 481.36,171.93 482.84,172.04 481.70,172.99 482.06,174.44 480.80,173.65 479.54,174.44 479.90,172.99 478.76,172.04 480.24,171.93" fill="#111"/>
<polygon points="485.20,170.55 485.76,171.93 487.24,172.04 486.10,172.99 486.46,174.44 485.20,173.65 483.94,174.44 484.30,172.99 483.16,172.04 484.64,171.93" fill="#111"/>
<text x="424.80" y="228.70" font-size="9.4" text-anchor="middle" stroke="#231f20" textLength="74.1" lengthAdjust="spacingAndGlyphs" transform="rotate(-90 424.80 228.70)">Cytokine &amp; chemokine</text>
<text x="436.90" y="229.00" font-size="9.4" text-anchor="middle" stroke="#231f20" textLength="46.8" lengthAdjust="spacingAndGlyphs" transform="rotate(-90 436.90 229.00)">pathway score</text>
<text x="0" y="0" font-size="8.4" stroke="#231f20" text-anchor="end" textLength="45.0" lengthAdjust="spacingAndGlyphs" transform="translate(474.00,281.50) rotate(-45)">0.1% DMSO</text>
<text x="0" y="0" font-size="8.4" stroke="#231f20" text-anchor="end" textLength="59.5" lengthAdjust="spacingAndGlyphs" transform="translate(500.30,281.50) rotate(-45)">300nM duvelisib</text>
<line x1="454.00" y1="229.50" x2="514.00" y2="229.50" stroke="#333" stroke-width="1.0" stroke-dasharray="1.1 2.1"/>
<path d="M470.70,225.70 C469.72,225.72 465.90,225.28 465.00,225.80 C464.10,226.32 465.33,227.80 465.30,228.80 C465.27,229.80 465.25,230.48 464.80,231.80 C464.35,233.12 462.68,235.38 462.60,236.70 C462.52,238.02 463.52,238.60 464.30,239.70 C465.08,240.80 466.62,241.88 467.30,243.30 C467.98,244.72 468.05,246.58 468.40,248.20 C468.75,249.82 469.17,250.98 469.40,253.00 C469.63,255.02 470.00,258.17 469.80,260.30 C469.60,262.43 468.28,264.43 468.20,265.80 C468.12,267.17 468.88,267.90 469.30,268.50 C469.72,269.10 470.43,269.25 470.70,269.40 C470.97,269.55 470.63,269.55 470.90,269.40 C471.17,269.25 471.88,269.10 472.30,268.50 C472.72,267.90 473.48,267.17 473.40,265.80 C473.32,264.43 472.00,262.43 471.80,260.30 C471.60,258.17 471.97,255.02 472.20,253.00 C472.43,250.98 472.85,249.82 473.20,248.20 C473.55,246.58 473.62,244.72 474.30,243.30 C474.98,241.88 476.52,240.80 477.30,239.70 C478.08,238.60 479.08,238.02 479.00,236.70 C478.92,235.38 477.25,233.12 476.80,231.80 C476.35,230.48 476.33,229.80 476.30,228.80 C476.27,227.80 477.50,226.32 476.60,225.80 C475.70,225.28 471.88,225.72 470.90,225.70 Z" fill="none" stroke="#cc1029" stroke-width="1.1" stroke-linejoin="round"/>
<line x1="465.80" y1="241.50" x2="475.80" y2="241.50" stroke="#cc1029" stroke-width="0.6" opacity="0.35"/>
<line x1="463.00" y1="236.90" x2="478.60" y2="236.90" stroke="#333" stroke-width="0.9" stroke-dasharray="1 1.4"/>
<circle cx="465.50" cy="226.00" r="1.3" fill="#cc1029"/>
<circle cx="470.80" cy="225.90" r="1.3" fill="#cc1029"/>
<circle cx="476.30" cy="225.60" r="1.3" fill="#cc1029"/>
<circle cx="470.80" cy="228.80" r="1.3" fill="#cc1029"/>
<circle cx="465.00" cy="236.70" r="1.3" fill="#cc1029"/>
<circle cx="470.80" cy="236.70" r="1.3" fill="#cc1029"/>
<circle cx="476.80" cy="236.20" r="1.3" fill="#cc1029"/>
<circle cx="470.80" cy="247.00" r="1.3" fill="#cc1029"/>
<circle cx="470.80" cy="249.80" r="1.3" fill="#cc1029"/>
<circle cx="470.80" cy="267.50" r="1.3" fill="#cc1029"/>
<path d="M497.00,198.60 C495.92,198.62 491.95,198.12 490.70,198.70 C489.45,199.28 489.85,200.52 489.50,202.10 C489.15,203.68 488.58,206.18 488.60,208.20 C488.62,210.22 489.10,212.38 489.60,214.20 C490.10,216.02 490.93,217.48 491.60,219.10 C492.27,220.72 493.10,222.08 493.60,223.90 C494.10,225.72 494.43,223.93 494.60,230.00 C494.77,236.07 494.48,254.90 494.60,260.30 C494.72,265.70 494.90,262.03 495.30,262.40 C495.70,262.77 496.68,262.48 497.00,262.50 C497.32,262.52 496.88,262.52 497.20,262.50 C497.52,262.48 498.50,262.77 498.90,262.40 C499.30,262.03 499.48,265.70 499.60,260.30 C499.72,254.90 499.43,236.07 499.60,230.00 C499.77,223.93 500.10,225.72 500.60,223.90 C501.10,222.08 501.93,220.72 502.60,219.10 C503.27,217.48 504.10,216.02 504.60,214.20 C505.10,212.38 505.58,210.22 505.60,208.20 C505.62,206.18 505.05,203.68 504.70,202.10 C504.35,200.52 504.75,199.28 503.50,198.70 C502.25,198.12 498.28,198.62 497.20,198.60 Z" fill="none" stroke="#0f4f8a" stroke-width="1.1" stroke-linejoin="round"/>
<line x1="490.60" y1="202.50" x2="503.60" y2="202.50" stroke="#0f4f8a" stroke-width="0.6" opacity="0.35"/>
<line x1="494.90" y1="238.50" x2="499.30" y2="238.50" stroke="#0f4f8a" stroke-width="0.6" opacity="0.35"/>
<line x1="490.10" y1="213.30" x2="504.10" y2="213.30" stroke="#333" stroke-width="0.9" stroke-dasharray="1 1.4"/>
<circle cx="494.20" cy="198.80" r="1.3" fill="#0f4f8a"/>
<circle cx="500.00" cy="198.80" r="1.3" fill="#0f4f8a"/>
<circle cx="497.10" cy="205.80" r="1.3" fill="#0f4f8a"/>
<circle cx="500.10" cy="210.40" r="1.3" fill="#0f4f8a"/>
<circle cx="494.00" cy="213.20" r="1.3" fill="#0f4f8a"/>
<circle cx="500.10" cy="214.30" r="1.3" fill="#0f4f8a"/>
<circle cx="497.10" cy="231.80" r="1.3" fill="#0f4f8a"/>
<circle cx="497.10" cy="245.50" r="1.3" fill="#0f4f8a"/>
<circle cx="497.10" cy="262.30" r="1.3" fill="#0f4f8a"/>
<text x="7.40" y="253.90" font-size="11.8" font-weight="bold" fill="#000" stroke="#000" stroke-width="0.3">C</text>
<text x="72.50" y="254.20" font-size="8.4" text-anchor="middle" font-weight="bold" fill="#000" stroke="#000" textLength="21.3" lengthAdjust="spacingAndGlyphs">Day 3</text>
<text x="61.50" y="262.80" font-size="8.0" text-anchor="middle" font-weight="bold" fill="#000" stroke="#000">–</text>
<text x="80.60" y="263.30" font-size="8.6" text-anchor="middle" font-weight="bold" fill="#000" stroke="#000">+</text>
<text x="117.60" y="254.20" font-size="8.4" text-anchor="middle" font-weight="bold" fill="#000" stroke="#000" textLength="21.3" lengthAdjust="spacingAndGlyphs">Day 9</text>
<text x="107.30" y="262.80" font-size="8.0" text-anchor="middle" font-weight="bold" fill="#000" stroke="#000">–</text>
<text x="126.30" y="263.30" font-size="8.6" text-anchor="middle" font-weight="bold" fill="#000" stroke="#000">+</text>
<text x="161.70" y="254.20" font-size="8.4" text-anchor="middle" font-weight="bold" fill="#000" stroke="#000" textLength="25.6" lengthAdjust="spacingAndGlyphs">Day 15</text>
<text x="152.70" y="262.80" font-size="8.0" text-anchor="middle" font-weight="bold" fill="#000" stroke="#000">–</text>
<text x="172.00" y="263.30" font-size="8.6" text-anchor="middle" font-weight="bold" fill="#000" stroke="#000">+</text>
<text x="196.50" y="263.28" font-size="8.0" font-weight="bold" fill="#000" stroke="#000" textLength="33.5" lengthAdjust="spacingAndGlyphs">Duvelisib</text>
<rect x="55.10" y="266.20" width="34.80" height="9.60" fill="#eaeaea" stroke="#8f8f8f" stroke-width="0.95"/>
<rect x="56.80" y="267.75" width="15.20" height="6.50" rx="1.80" fill="rgb(4,4,4)" filter="url(#bl)"/>
<rect x="73.90" y="268.70" width="13.20" height="3.60" rx="1.80" fill="rgb(31,31,31)" filter="url(#bl)"/>
<rect x="100.20" y="266.20" width="34.80" height="9.60" fill="#eaeaea" stroke="#8f8f8f" stroke-width="0.95"/>
<rect x="102.90" y="269.60" width="13.20" height="2.80" rx="1.40" fill="rgb(182,182,182)" filter="url(#bl)"/>
<rect x="119.00" y="269.60" width="13.20" height="2.80" rx="1.40" fill="rgb(182,182,182)" filter="url(#bl)"/>
<rect x="144.30" y="266.20" width="34.80" height="9.60" fill="#eaeaea" stroke="#8f8f8f" stroke-width="0.95"/>
<rect x="148.00" y="269.50" width="11.20" height="3.00" rx="1.50" fill="rgb(116,116,116)" filter="url(#bl)"/>
<rect x="163.60" y="269.50" width="12.20" height="3.00" rx="1.50" fill="rgb(67,67,67)" filter="url(#bl)"/>
<text x="196.50" y="274.32" font-size="8.4" fill="#111" stroke="#111" textLength="20.7" lengthAdjust="spacingAndGlyphs">p110γ</text>
<rect x="55.10" y="280.30" width="34.80" height="7.50" fill="#eaeaea" stroke="#8f8f8f" stroke-width="0.95"/>
<rect x="57.80" y="282.60" width="13.20" height="2.90" rx="1.45" fill="rgb(170,170,170)" filter="url(#bl)"/>
<rect x="73.90" y="282.45" width="13.20" height="3.20" rx="1.60" fill="rgb(130,130,130)" filter="url(#bl)"/>
<rect x="100.20" y="280.30" width="34.80" height="7.50" fill="#eaeaea" stroke="#8f8f8f" stroke-width="0.95"/>
<rect x="102.90" y="282.03" width="13.20" height="4.04" rx="1.80" fill="rgb(14,14,14)" filter="url(#bl)"/>
<rect x="119.00" y="282.03" width="13.20" height="4.04" rx="1.80" fill="rgb(14,14,14)" filter="url(#bl)"/>
<rect x="144.30" y="280.30" width="34.80" height="7.50" fill="#eaeaea" stroke="#8f8f8f" stroke-width="0.95"/>
<rect x="147.00" y="282.07" width="13.20" height="3.96" rx="1.80" fill="rgb(24,24,24)" filter="url(#bl)"/>
<rect x="163.10" y="282.07" width="13.20" height="3.96" rx="1.80" fill="rgb(24,24,24)" filter="url(#bl)"/>
<text x="196.50" y="287.32" font-size="8.4" fill="#111" stroke="#111" textLength="21.15" lengthAdjust="spacingAndGlyphs">p110δ</text>
<rect x="55.10" y="293.40" width="34.80" height="10.50" fill="#eaeaea" stroke="#8f8f8f" stroke-width="0.95"/>
<rect x="56.80" y="294.65" width="15.20" height="8.00" rx="1.80" fill="rgb(0,0,0)" filter="url(#bl)"/>
<rect x="72.90" y="294.65" width="15.20" height="8.00" rx="1.80" fill="rgb(0,0,0)" filter="url(#bl)"/>
<rect x="100.20" y="293.40" width="34.80" height="10.50" fill="#eaeaea" stroke="#8f8f8f" stroke-width="0.95"/>
<rect x="103.40" y="296.15" width="12.20" height="5.00" rx="1.80" fill="rgb(102,102,102)" filter="url(#bl)"/>
<rect x="119.50" y="296.15" width="12.20" height="5.00" rx="1.80" fill="rgb(163,163,163)" filter="url(#bl)"/>
<rect x="144.30" y="293.40" width="34.80" height="10.50" fill="#eaeaea" stroke="#8f8f8f" stroke-width="0.95"/>
<rect x="147.50" y="296.15" width="12.20" height="5.00" rx="1.80" fill="rgb(79,79,79)" filter="url(#bl)"/>
<rect x="163.60" y="296.15" width="12.20" height="5.00" rx="1.80" fill="rgb(125,125,125)" filter="url(#bl)"/>
<text x="196.50" y="302.12" font-size="8.4" fill="#111" stroke="#111" textLength="21.31" lengthAdjust="spacingAndGlyphs">p110α</text>
<rect x="55.10" y="307.40" width="34.80" height="10.30" fill="#eaeaea" stroke="#8f8f8f" stroke-width="0.95"/>
<rect x="57.80" y="311.05" width="13.20" height="3.00" rx="1.50" fill="rgb(144,144,144)" filter="url(#bl)"/>
<rect x="100.20" y="307.40" width="34.80" height="10.30" fill="#eaeaea" stroke="#8f8f8f" stroke-width="0.95"/>
<rect x="102.90" y="310.45" width="13.20" height="4.20" rx="1.80" fill="rgb(31,31,31)" filter="url(#bl)"/>
<rect x="119.00" y="311.35" width="13.20" height="2.40" rx="1.20" fill="rgb(221,221,221)" filter="url(#bl)"/>
<rect x="144.30" y="307.40" width="34.80" height="10.30" fill="#eaeaea" stroke="#8f8f8f" stroke-width="0.95"/>
<rect x="146.45" y="311.05" width="12.70" height="3.80" rx="1.80" fill="rgb(4,4,4)" filter="url(#bl)"/>
<text x="196.50" y="316.52" font-size="8.4" fill="#111" stroke="#111" textLength="38.65" lengthAdjust="spacingAndGlyphs">p-Akt S473</text>
<rect x="55.10" y="320.20" width="34.80" height="9.90" fill="#eaeaea" stroke="#8f8f8f" stroke-width="0.95"/>
<rect x="57.80" y="322.15" width="13.20" height="6.00" rx="1.80" fill="rgb(8,8,8)" filter="url(#bl)"/>
<rect x="73.90" y="322.65" width="13.20" height="5.00" rx="1.80" fill="rgb(31,31,31)" filter="url(#bl)"/>
<rect x="100.20" y="320.20" width="34.80" height="9.90" fill="#eaeaea" stroke="#8f8f8f" stroke-width="0.95"/>
<rect x="102.90" y="322.65" width="13.20" height="5.00" rx="1.80" fill="rgb(8,8,8)" filter="url(#bl)"/>
<rect x="118.00" y="321.65" width="15.20" height="7.00" rx="1.80" fill="rgb(0,0,0)" filter="url(#bl)"/>
<rect x="144.30" y="320.20" width="34.80" height="9.90" fill="#eaeaea" stroke="#8f8f8f" stroke-width="0.95"/>
<rect x="147.50" y="322.65" width="12.20" height="3.80" rx="1.80" fill="rgb(19,19,19)" filter="url(#bl)"/>
<rect x="163.60" y="322.55" width="12.20" height="4.00" rx="1.80" fill="rgb(19,19,19)" filter="url(#bl)"/>
<text x="196.50" y="328.52" font-size="8.4" fill="#111" stroke="#111" textLength="11.29" lengthAdjust="spacingAndGlyphs">Akt</text>
<rect x="55.10" y="332.80" width="34.80" height="10.10" fill="#eaeaea" stroke="#8f8f8f" stroke-width="0.95"/>
<rect x="57.80" y="336.40" width="13.20" height="2.90" rx="1.45" fill="rgb(170,170,170)" filter="url(#bl)"/>
<rect x="73.90" y="335.90" width="13.20" height="3.90" rx="1.80" fill="rgb(31,31,31)" filter="url(#bl)"/>
<rect x="100.20" y="332.80" width="34.80" height="10.10" fill="#eaeaea" stroke="#8f8f8f" stroke-width="0.95"/>
<rect x="102.90" y="336.55" width="13.20" height="2.60" rx="1.30" fill="rgb(204,204,204)" filter="url(#bl)"/>
<rect x="119.00" y="335.95" width="13.20" height="3.80" rx="1.80" fill="rgb(45,45,45)" filter="url(#bl)"/>
<rect x="144.30" y="332.80" width="34.80" height="10.10" fill="#eaeaea" stroke="#8f8f8f" stroke-width="0.95"/>
<rect x="147.00" y="336.68" width="13.20" height="2.34" rx="1.17" fill="rgb(224,224,224)" filter="url(#bl)"/>
<rect x="163.10" y="336.63" width="13.20" height="2.44" rx="1.22" fill="rgb(218,218,218)" filter="url(#bl)"/>
<text x="196.50" y="340.82" font-size="8.4" fill="#111" stroke="#111" textLength="70.35" lengthAdjust="spacingAndGlyphs">p-MEK1/2 S217/221</text>
<rect x="55.10" y="347.90" width="34.80" height="9.90" fill="#eaeaea" stroke="#8f8f8f" stroke-width="0.95"/>
<rect x="57.80" y="350.90" width="13.20" height="3.90" rx="1.80" fill="rgb(31,31,31)" filter="url(#bl)"/>
<rect x="73.90" y="350.10" width="13.20" height="5.50" rx="1.80" fill="rgb(8,8,8)" filter="url(#bl)"/>
<rect x="100.20" y="347.90" width="34.80" height="9.90" fill="#eaeaea" stroke="#8f8f8f" stroke-width="0.95"/>
<rect x="102.90" y="350.95" width="13.20" height="3.80" rx="1.80" fill="rgb(45,45,45)" filter="url(#bl)"/>
<rect x="119.00" y="350.95" width="13.20" height="3.80" rx="1.80" fill="rgb(45,45,45)" filter="url(#bl)"/>
<rect x="144.30" y="347.90" width="34.80" height="9.90" fill="#eaeaea" stroke="#8f8f8f" stroke-width="0.95"/>
<rect x="147.00" y="350.99" width="13.20" height="3.72" rx="1.80" fill="rgb(56,56,56)" filter="url(#bl)"/>
<rect x="163.10" y="350.91" width="13.20" height="3.88" rx="1.80" fill="rgb(34,34,34)" filter="url(#bl)"/>
<text x="196.50" y="355.52" font-size="8.4" fill="#111" stroke="#111" textLength="27.79" lengthAdjust="spacingAndGlyphs">MEK1/2</text>
<rect x="55.10" y="363.80" width="34.80" height="10.00" fill="#eaeaea" stroke="#8f8f8f" stroke-width="0.95"/>
<rect x="58.30" y="367.30" width="12.20" height="3.00" rx="1.50" fill="rgb(144,144,144)" filter="url(#bl)"/>
<rect x="74.40" y="367.05" width="12.20" height="3.50" rx="1.75" fill="rgb(79,79,79)" filter="url(#bl)"/>
<rect x="100.20" y="363.80" width="34.80" height="10.00" fill="#eaeaea" stroke="#8f8f8f" stroke-width="0.95"/>
<rect x="102.90" y="367.05" width="13.20" height="3.50" rx="1.75" fill="rgb(31,31,31)" filter="url(#bl)"/>
<rect x="118.00" y="365.30" width="15.20" height="7.00" rx="1.80" fill="rgb(0,0,0)" filter="url(#bl)"/>
<rect x="144.30" y="363.80" width="34.80" height="10.00" fill="#eaeaea" stroke="#8f8f8f" stroke-width="0.95"/>
<rect x="147.00" y="367.62" width="13.20" height="2.36" rx="1.18" fill="rgb(223,223,223)" filter="url(#bl)"/>
<rect x="163.60" y="367.30" width="12.20" height="3.00" rx="1.50" fill="rgb(130,130,130)" filter="url(#bl)"/>
<text x="196.50" y="371.92" font-size="8.4" fill="#111" stroke="#111" textLength="74.11" lengthAdjust="spacingAndGlyphs">p-ERK1/2 T202/Y204</text>
<rect x="55.10" y="377.80" width="34.80" height="9.80" fill="#eaeaea" stroke="#8f8f8f" stroke-width="0.95"/>
<rect x="57.80" y="380.72" width="13.20" height="3.96" rx="1.80" fill="rgb(24,24,24)" filter="url(#bl)"/>
<rect x="73.90" y="380.70" width="13.20" height="4.00" rx="1.80" fill="rgb(19,19,19)" filter="url(#bl)"/>
<rect x="100.20" y="377.80" width="34.80" height="9.80" fill="#eaeaea" stroke="#8f8f8f" stroke-width="0.95"/>
<rect x="102.90" y="380.78" width="13.20" height="3.84" rx="1.80" fill="rgb(39,39,39)" filter="url(#bl)"/>
<rect x="119.00" y="380.74" width="13.20" height="3.92" rx="1.80" fill="rgb(29,29,29)" filter="url(#bl)"/>
<rect x="144.30" y="377.80" width="34.80" height="9.80" fill="#eaeaea" stroke="#8f8f8f" stroke-width="0.95"/>
<rect x="147.00" y="380.72" width="13.20" height="3.96" rx="1.80" fill="rgb(24,24,24)" filter="url(#bl)"/>
<rect x="163.10" y="380.70" width="13.20" height="4.00" rx="1.80" fill="rgb(19,19,19)" filter="url(#bl)"/>
<text x="196.50" y="386.02" font-size="8.4" fill="#111" stroke="#111" textLength="26.92" lengthAdjust="spacingAndGlyphs">ERK1/2</text>
<rect x="55.10" y="393.00" width="34.80" height="9.90" fill="#eaeaea" stroke="#8f8f8f" stroke-width="0.95"/>
<rect x="57.80" y="396.20" width="13.20" height="3.50" rx="1.75" fill="rgb(39,39,39)" filter="url(#bl)"/>
<rect x="73.90" y="396.20" width="13.20" height="3.50" rx="1.75" fill="rgb(79,79,79)" filter="url(#bl)"/>
<rect x="100.20" y="393.00" width="34.80" height="9.90" fill="#eaeaea" stroke="#8f8f8f" stroke-width="0.95"/>
<rect x="102.90" y="395.20" width="13.20" height="5.50" rx="1.80" fill="rgb(8,8,8)" filter="url(#bl)"/>
<rect x="119.50" y="396.45" width="12.20" height="3.00" rx="1.50" fill="rgb(182,182,182)" filter="url(#bl)"/>
<rect x="144.30" y="393.00" width="34.80" height="9.90" fill="#eaeaea" stroke="#8f8f8f" stroke-width="0.95"/>
<rect x="147.50" y="396.45" width="12.20" height="3.00" rx="1.50" fill="rgb(170,170,170)" filter="url(#bl)"/>
<rect x="163.60" y="396.45" width="12.20" height="3.00" rx="1.50" fill="rgb(170,170,170)" filter="url(#bl)"/>
<text x="196.50" y="401.02" font-size="8.4" fill="#111" stroke="#111" textLength="52.12" lengthAdjust="spacingAndGlyphs">p-S6 S235/236</text>
<rect x="55.10" y="405.20" width="34.80" height="10.60" fill="#eaeaea" stroke="#8f8f8f" stroke-width="0.95"/>
<rect x="57.30" y="407.75" width="14.20" height="5.50" rx="1.80" fill="rgb(19,19,19)" filter="url(#bl)"/>
<rect x="73.90" y="408.00" width="13.20" height="5.00" rx="1.80" fill="rgb(59,59,59)" filter="url(#bl)"/>
<rect x="100.20" y="405.20" width="34.80" height="10.60" fill="#eaeaea" stroke="#8f8f8f" stroke-width="0.95"/>
<rect x="102.90" y="408.25" width="13.20" height="4.50" rx="1.80" fill="rgb(59,59,59)" filter="url(#bl)"/>
<rect x="119.00" y="408.00" width="13.20" height="5.00" rx="1.80" fill="rgb(45,45,45)" filter="url(#bl)"/>
<rect x="144.30" y="405.20" width="34.80" height="10.60" fill="#eaeaea" stroke="#8f8f8f" stroke-width="0.95"/>
<rect x="145.50" y="406.50" width="16.20" height="8.00" rx="1.80" fill="rgb(0,0,0)" filter="url(#bl)"/>
<rect x="161.60" y="406.50" width="16.20" height="8.00" rx="1.80" fill="rgb(0,0,0)" filter="url(#bl)"/>
<text x="196.50" y="412.22" font-size="8.4" fill="#111" stroke="#111" textLength="9.56" lengthAdjust="spacingAndGlyphs">S6</text>
<rect x="55.10" y="420.60" width="34.80" height="10.40" fill="#eaeaea" stroke="#8f8f8f" stroke-width="0.95"/>
<rect x="58.80" y="424.05" width="11.20" height="3.50" rx="1.75" fill="rgb(50,50,50)" filter="url(#bl)"/>
<rect x="74.40" y="423.80" width="12.20" height="4.00" rx="1.80" fill="rgb(50,50,50)" filter="url(#bl)"/>
<rect x="100.20" y="420.60" width="34.80" height="10.40" fill="#eaeaea" stroke="#8f8f8f" stroke-width="0.95"/>
<rect x="102.90" y="423.30" width="13.20" height="5.00" rx="1.80" fill="rgb(19,19,19)" filter="url(#bl)"/>
<rect x="118.50" y="422.80" width="14.20" height="6.00" rx="1.80" fill="rgb(8,8,8)" filter="url(#bl)"/>
<rect x="144.30" y="420.60" width="34.80" height="10.40" fill="#eaeaea" stroke="#8f8f8f" stroke-width="0.95"/>
<rect x="147.50" y="423.80" width="12.20" height="4.00" rx="1.80" fill="rgb(45,45,45)" filter="url(#bl)"/>
<rect x="163.60" y="423.55" width="12.20" height="4.50" rx="1.80" fill="rgb(31,31,31)" filter="url(#bl)"/>
<text x="196.50" y="429.12" font-size="8.4" fill="#111" stroke="#111" textLength="94.77" lengthAdjust="spacingAndGlyphs">p-mTOR S2448 (mTORC1)</text>
<rect x="55.10" y="436.00" width="34.80" height="10.50" fill="#eaeaea" stroke="#8f8f8f" stroke-width="0.95"/>
<rect x="58.80" y="439.25" width="11.20" height="4.00" rx="1.80" fill="rgb(50,50,50)" filter="url(#bl)"/>
<rect x="73.90" y="438.25" width="13.20" height="5.00" rx="1.80" fill="rgb(19,19,19)" filter="url(#bl)"/>
<rect x="100.20" y="436.00" width="34.80" height="10.50" fill="#eaeaea" stroke="#8f8f8f" stroke-width="0.95"/>
<rect x="103.40" y="439.00" width="12.20" height="4.50" rx="1.80" fill="rgb(31,31,31)" filter="url(#bl)"/>
<rect x="118.50" y="438.00" width="14.20" height="6.50" rx="1.80" fill="rgb(4,4,4)" filter="url(#bl)"/>
<rect x="144.30" y="436.00" width="34.80" height="10.50" fill="#eaeaea" stroke="#8f8f8f" stroke-width="0.95"/>
<rect x="147.50" y="439.25" width="12.20" height="4.00" rx="1.80" fill="rgb(39,39,39)" filter="url(#bl)"/>
<rect x="163.60" y="439.25" width="12.20" height="4.00" rx="1.80" fill="rgb(39,39,39)" filter="url(#bl)"/>
<text x="196.50" y="444.12" font-size="8.4" fill="#111" stroke="#111" textLength="94.77" lengthAdjust="spacingAndGlyphs">p-mTOR S2481 (mTORC2)</text>
<rect x="55.10" y="450.00" width="34.80" height="10.60" fill="#eaeaea" stroke="#8f8f8f" stroke-width="0.95"/>
<rect x="57.80" y="452.30" width="13.20" height="6.00" rx="1.80" fill="rgb(116,116,116)" filter="url(#bl)"/>
<rect x="73.90" y="452.30" width="13.20" height="6.00" rx="1.80" fill="rgb(144,144,144)" filter="url(#bl)"/>
<rect x="100.20" y="450.00" width="34.80" height="10.60" fill="#eaeaea" stroke="#8f8f8f" stroke-width="0.95"/>
<rect x="102.90" y="451.80" width="13.20" height="7.00" rx="1.80" fill="rgb(88,88,88)" filter="url(#bl)"/>
<rect x="119.00" y="451.80" width="13.20" height="7.00" rx="1.80" fill="rgb(88,88,88)" filter="url(#bl)"/>
<rect x="144.30" y="450.00" width="34.80" height="10.60" fill="#eaeaea" stroke="#8f8f8f" stroke-width="0.95"/>
<rect x="147.00" y="451.55" width="13.20" height="7.50" rx="1.80" fill="rgb(59,59,59)" filter="url(#bl)"/>
<rect x="163.10" y="451.55" width="13.20" height="7.50" rx="1.80" fill="rgb(45,45,45)" filter="url(#bl)"/>
<text x="196.50" y="458.52" font-size="8.4" fill="#111" stroke="#111" textLength="22.85" lengthAdjust="spacingAndGlyphs">mTOR</text>
<rect x="55.10" y="463.70" width="34.80" height="10.30" fill="#eaeaea" stroke="#8f8f8f" stroke-width="0.95"/>
<rect x="57.30" y="467.10" width="14.20" height="3.50" rx="1.75" fill="rgb(8,8,8)" filter="url(#bl)"/>
<rect x="73.40" y="467.10" width="14.20" height="3.50" rx="1.75" fill="rgb(8,8,8)" filter="url(#bl)"/>
<rect x="100.20" y="463.70" width="34.80" height="10.30" fill="#eaeaea" stroke="#8f8f8f" stroke-width="0.95"/>
<rect x="102.90" y="467.10" width="13.20" height="3.50" rx="1.75" fill="rgb(14,14,14)" filter="url(#bl)"/>
<rect x="119.00" y="467.10" width="13.20" height="3.50" rx="1.75" fill="rgb(14,14,14)" filter="url(#bl)"/>
<rect x="144.30" y="463.70" width="34.80" height="10.30" fill="#eaeaea" stroke="#8f8f8f" stroke-width="0.95"/>
<rect x="147.50" y="467.25" width="12.20" height="3.20" rx="1.60" fill="rgb(19,19,19)" filter="url(#bl)"/>
<rect x="163.60" y="467.25" width="12.20" height="3.20" rx="1.60" fill="rgb(19,19,19)" filter="url(#bl)"/>
<text x="196.50" y="472.22" font-size="8.4" fill="#111" stroke="#111" textLength="23.59" lengthAdjust="spacingAndGlyphs">β-actin</text>
<rect x="55.10" y="477.50" width="34.80" height="10.20" fill="#eaeaea" stroke="#8f8f8f" stroke-width="0.95"/>
<rect x="58.30" y="480.60" width="12.20" height="4.00" rx="1.80" fill="rgb(39,39,39)" filter="url(#bl)"/>
<rect x="73.90" y="480.10" width="13.20" height="5.00" rx="1.80" fill="rgb(19,19,19)" filter="url(#bl)"/>
<rect x="100.20" y="477.50" width="34.80" height="10.20" fill="#eaeaea" stroke="#8f8f8f" stroke-width="0.95"/>
<rect x="103.40" y="480.60" width="12.20" height="4.00" rx="1.80" fill="rgb(31,31,31)" filter="url(#bl)"/>
<rect x="119.50" y="480.60" width="12.20" height="4.00" rx="1.80" fill="rgb(31,31,31)" filter="url(#bl)"/>
<rect x="144.30" y="477.50" width="34.80" height="10.20" fill="#eaeaea" stroke="#8f8f8f" stroke-width="0.95"/>
<rect x="147.50" y="480.60" width="12.20" height="4.00" rx="1.80" fill="rgb(19,19,19)" filter="url(#bl)"/>
<rect x="163.60" y="480.60" width="12.20" height="4.00" rx="1.80" fill="rgb(19,19,19)" filter="url(#bl)"/>
<text x="196.50" y="485.52" font-size="8.4" fill="#111" stroke="#111" textLength="27.78" lengthAdjust="spacingAndGlyphs">GAPDH</text>
<text x="307.00" y="354.40" font-size="11.8" font-weight="bold" fill="#000" stroke="#000" stroke-width="0.3">D</text>
<text x="347.00" y="345.30" font-size="8.4" text-anchor="middle" font-weight="bold" fill="#000" stroke="#000" textLength="21.2" lengthAdjust="spacingAndGlyphs">Day 3</text>
<text x="336.50" y="353.80" font-size="8.0" text-anchor="middle" font-weight="bold" fill="#000" stroke="#000">–</text>
<text x="355.60" y="354.30" font-size="8.6" text-anchor="middle" font-weight="bold" fill="#000" stroke="#000">+</text>
<text x="392.60" y="345.30" font-size="8.4" text-anchor="middle" font-weight="bold" fill="#000" stroke="#000" textLength="21.2" lengthAdjust="spacingAndGlyphs">Day 9</text>
<text x="382.00" y="353.80" font-size="8.0" text-anchor="middle" font-weight="bold" fill="#000" stroke="#000">–</text>
<text x="401.70" y="354.30" font-size="8.6" text-anchor="middle" font-weight="bold" fill="#000" stroke="#000">+</text>
<text x="436.20" y="345.30" font-size="8.4" text-anchor="middle" font-weight="bold" fill="#000" stroke="#000" textLength="25.4" lengthAdjust="spacingAndGlyphs">Day 15</text>
<text x="427.20" y="353.80" font-size="8.0" text-anchor="middle" font-weight="bold" fill="#000" stroke="#000">–</text>
<text x="446.90" y="354.30" font-size="8.6" text-anchor="middle" font-weight="bold" fill="#000" stroke="#000">+</text>
<text x="466.00" y="354.48" font-size="8.0" font-weight="bold" fill="#000" stroke="#000" textLength="33.0" lengthAdjust="spacingAndGlyphs">Duvelisib</text>
<rect x="330.90" y="356.90" width="34.80" height="9.50" fill="#eaeaea" stroke="#8f8f8f" stroke-width="0.95"/>
<rect x="333.30" y="360.25" width="13.20" height="2.80" rx="1.40" fill="rgb(182,182,182)" filter="url(#bl)"/>
<rect x="349.80" y="359.15" width="13.20" height="5.00" rx="1.80" fill="rgb(14,14,14)" filter="url(#bl)"/>
<rect x="376.50" y="356.90" width="34.80" height="9.50" fill="#eaeaea" stroke="#8f8f8f" stroke-width="0.95"/>
<rect x="378.90" y="359.15" width="13.20" height="5.00" rx="1.80" fill="rgb(14,14,14)" filter="url(#bl)"/>
<rect x="395.40" y="360.20" width="13.20" height="2.90" rx="1.45" fill="rgb(170,170,170)" filter="url(#bl)"/>
<rect x="420.10" y="356.90" width="34.80" height="9.50" fill="#eaeaea" stroke="#8f8f8f" stroke-width="0.95"/>
<rect x="422.50" y="360.00" width="13.20" height="3.30" rx="1.65" fill="rgb(116,116,116)" filter="url(#bl)"/>
<rect x="439.00" y="358.90" width="13.20" height="5.50" rx="1.80" fill="rgb(14,14,14)" filter="url(#bl)"/>
<text x="472.80" y="363.62" font-size="8.4" fill="#111" stroke="#111" textLength="20.8" lengthAdjust="spacingAndGlyphs">SIRT1</text>
<rect x="330.90" y="370.20" width="34.80" height="9.50" fill="#eaeaea" stroke="#8f8f8f" stroke-width="0.95"/>
<rect x="333.30" y="372.97" width="13.20" height="3.96" rx="1.80" fill="rgb(24,24,24)" filter="url(#bl)"/>
<rect x="349.80" y="372.97" width="13.20" height="3.96" rx="1.80" fill="rgb(24,24,24)" filter="url(#bl)"/>
<rect x="376.50" y="370.20" width="34.80" height="9.50" fill="#eaeaea" stroke="#8f8f8f" stroke-width="0.95"/>
<rect x="378.90" y="373.25" width="13.20" height="3.40" rx="1.70" fill="rgb(102,102,102)" filter="url(#bl)"/>
<rect x="395.40" y="373.03" width="13.20" height="3.84" rx="1.80" fill="rgb(39,39,39)" filter="url(#bl)"/>
<rect x="420.10" y="370.20" width="34.80" height="9.50" fill="#eaeaea" stroke="#8f8f8f" stroke-width="0.95"/>
<rect x="422.50" y="372.99" width="13.20" height="3.92" rx="1.80" fill="rgb(29,29,29)" filter="url(#bl)"/>
<rect x="439.00" y="372.20" width="13.20" height="5.50" rx="1.80" fill="rgb(6,6,6)" filter="url(#bl)"/>
<text x="472.80" y="377.72" font-size="8.4" fill="#111" stroke="#111" textLength="21.4" lengthAdjust="spacingAndGlyphs">SIRT3</text>
<rect x="330.90" y="382.90" width="34.80" height="9.90" fill="#eaeaea" stroke="#8f8f8f" stroke-width="0.95"/>
<rect x="332.30" y="385.10" width="15.20" height="5.50" rx="1.80" fill="rgb(0,0,0)" filter="url(#bl)"/>
<rect x="349.30" y="385.35" width="14.20" height="5.00" rx="1.80" fill="rgb(6,6,6)" filter="url(#bl)"/>
<rect x="376.50" y="382.90" width="34.80" height="9.90" fill="#eaeaea" stroke="#8f8f8f" stroke-width="0.95"/>
<rect x="379.40" y="386.35" width="12.20" height="3.00" rx="1.50" fill="rgb(144,144,144)" filter="url(#bl)"/>
<rect x="394.90" y="385.60" width="14.20" height="4.50" rx="1.80" fill="rgb(14,14,14)" filter="url(#bl)"/>
<rect x="420.10" y="382.90" width="34.80" height="9.90" fill="#eaeaea" stroke="#8f8f8f" stroke-width="0.95"/>
<rect x="422.50" y="386.10" width="13.20" height="3.50" rx="1.75" fill="rgb(73,73,73)" filter="url(#bl)"/>
<rect x="439.00" y="385.85" width="13.20" height="4.00" rx="1.80" fill="rgb(39,39,39)" filter="url(#bl)"/>
<text x="472.80" y="390.02" font-size="8.4" fill="#111" stroke="#111" textLength="21.4" lengthAdjust="spacingAndGlyphs">SIRT5</text>
<rect x="330.90" y="396.20" width="34.80" height="9.60" fill="#eaeaea" stroke="#8f8f8f" stroke-width="0.95"/>
<rect x="333.30" y="399.08" width="13.20" height="3.84" rx="1.80" fill="rgb(39,39,39)" filter="url(#bl)"/>
<rect x="349.80" y="398.50" width="13.20" height="5.00" rx="1.80" fill="rgb(6,6,6)" filter="url(#bl)"/>
<rect x="376.50" y="396.20" width="34.80" height="9.60" fill="#eaeaea" stroke="#8f8f8f" stroke-width="0.95"/>
<rect x="378.90" y="399.40" width="13.20" height="3.20" rx="1.60" fill="rgb(130,130,130)" filter="url(#bl)"/>
<rect x="395.40" y="398.25" width="13.20" height="5.50" rx="1.80" fill="rgb(6,6,6)" filter="url(#bl)"/>
<rect x="420.10" y="396.20" width="34.80" height="9.60" fill="#eaeaea" stroke="#8f8f8f" stroke-width="0.95"/>
<rect x="422.50" y="399.55" width="13.20" height="2.90" rx="1.45" fill="rgb(170,170,170)" filter="url(#bl)"/>
<rect x="439.00" y="399.28" width="13.20" height="3.44" rx="1.72" fill="rgb(96,96,96)" filter="url(#bl)"/>
<text x="472.80" y="403.82" font-size="8.4" fill="#111" stroke="#111" textLength="26.04" lengthAdjust="spacingAndGlyphs">TCF1/7</text>
<rect x="330.90" y="407.90" width="34.80" height="9.40" fill="#eaeaea" stroke="#8f8f8f" stroke-width="0.95"/>
<rect x="333.30" y="411.10" width="13.20" height="3.00" rx="1.50" fill="rgb(14,14,14)" filter="url(#bl)"/>
<rect x="349.80" y="411.10" width="13.20" height="3.00" rx="1.50" fill="rgb(14,14,14)" filter="url(#bl)"/>
<rect x="376.50" y="407.90" width="34.80" height="9.40" fill="#eaeaea" stroke="#8f8f8f" stroke-width="0.95"/>
<rect x="378.40" y="410.60" width="14.20" height="4.00" rx="1.80" fill="rgb(8,8,8)" filter="url(#bl)"/>
<rect x="394.90" y="410.35" width="14.20" height="4.50" rx="1.80" fill="rgb(8,8,8)" filter="url(#bl)"/>
<rect x="420.10" y="407.90" width="34.80" height="9.40" fill="#eaeaea" stroke="#8f8f8f" stroke-width="0.95"/>
<rect x="422.00" y="410.60" width="14.20" height="4.00" rx="1.80" fill="rgb(8,8,8)" filter="url(#bl)"/>
<rect x="438.50" y="410.35" width="14.20" height="4.50" rx="1.80" fill="rgb(8,8,8)" filter="url(#bl)"/>
<text x="472.80" y="414.62" font-size="8.4" fill="#111" stroke="#111" textLength="31.25" lengthAdjust="spacingAndGlyphs">DNMT3a</text>
<rect x="330.90" y="420.20" width="34.80" height="10.20" fill="#eaeaea" stroke="#8f8f8f" stroke-width="0.95"/>
<rect x="332.80" y="422.80" width="14.20" height="5.00" rx="1.80" fill="rgb(8,8,8)" filter="url(#bl)"/>
<rect x="349.30" y="422.55" width="14.20" height="5.50" rx="1.80" fill="rgb(14,14,14)" filter="url(#bl)"/>
<rect x="376.50" y="420.20" width="34.80" height="10.20" fill="#eaeaea" stroke="#8f8f8f" stroke-width="0.95"/>
<rect x="378.90" y="423.30" width="13.20" height="4.00" rx="1.80" fill="rgb(116,116,116)" filter="url(#bl)"/>
<rect x="393.90" y="421.30" width="16.20" height="8.00" rx="1.80" fill="rgb(0,0,0)" filter="url(#bl)"/>
<rect x="420.10" y="420.20" width="34.80" height="10.20" fill="#eaeaea" stroke="#8f8f8f" stroke-width="0.95"/>
<rect x="423.00" y="423.30" width="12.20" height="4.00" rx="1.80" fill="rgb(67,67,67)" filter="url(#bl)"/>
<rect x="438.50" y="422.55" width="14.20" height="5.50" rx="1.80" fill="rgb(14,14,14)" filter="url(#bl)"/>
<text x="472.80" y="426.62" font-size="8.4" fill="#111" stroke="#111" textLength="26.48" lengthAdjust="spacingAndGlyphs">FOXO1</text>
<rect x="330.90" y="431.90" width="34.80" height="10.80" fill="#eaeaea" stroke="#8f8f8f" stroke-width="0.95"/>
<rect x="331.30" y="433.40" width="17.20" height="8.40" rx="1.80" fill="rgb(0,0,0)" filter="url(#bl)"/>
<rect x="349.30" y="436.55" width="14.20" height="3.50" rx="1.75" fill="rgb(31,31,31)" filter="url(#bl)"/>
<rect x="376.50" y="431.90" width="34.80" height="10.80" fill="#eaeaea" stroke="#8f8f8f" stroke-width="0.95"/>
<rect x="378.40" y="435.80" width="14.20" height="4.00" rx="1.80" fill="rgb(31,31,31)" filter="url(#bl)"/>
<rect x="395.90" y="436.80" width="12.20" height="3.00" rx="1.50" fill="rgb(45,45,45)" filter="url(#bl)"/>
<rect x="420.10" y="431.90" width="34.80" height="10.80" fill="#eaeaea" stroke="#8f8f8f" stroke-width="0.95"/>
<rect x="423.50" y="437.05" width="11.20" height="2.50" rx="1.25" fill="rgb(204,204,204)" filter="url(#bl)"/>
<rect x="438.50" y="435.55" width="14.20" height="3.50" rx="1.75" fill="rgb(31,31,31)" filter="url(#bl)"/>
<text x="472.80" y="440.22" font-size="8.4" fill="#111" stroke="#111" textLength="40.4" lengthAdjust="spacingAndGlyphs">H3K27me3</text>
<rect x="330.90" y="444.80" width="34.80" height="6.50" fill="#eaeaea" stroke="#8f8f8f" stroke-width="0.95"/>
<rect x="332.80" y="446.30" width="14.20" height="3.50" rx="1.75" fill="rgb(14,14,14)" filter="url(#bl)"/>
<rect x="349.80" y="446.30" width="13.20" height="3.50" rx="1.75" fill="rgb(31,31,31)" filter="url(#bl)"/>
<rect x="376.50" y="444.80" width="34.80" height="6.50" fill="#eaeaea" stroke="#8f8f8f" stroke-width="0.95"/>
<rect x="378.40" y="446.30" width="14.20" height="3.50" rx="1.75" fill="rgb(19,19,19)" filter="url(#bl)"/>
<rect x="394.90" y="446.30" width="14.20" height="3.50" rx="1.75" fill="rgb(14,14,14)" filter="url(#bl)"/>
<rect x="420.10" y="444.80" width="34.80" height="6.50" fill="#eaeaea" stroke="#8f8f8f" stroke-width="0.95"/>
<rect x="422.00" y="446.30" width="14.20" height="3.50" rx="1.75" fill="rgb(24,24,24)" filter="url(#bl)"/>
<rect x="438.50" y="446.30" width="14.20" height="3.50" rx="1.75" fill="rgb(19,19,19)" filter="url(#bl)"/>
<text x="472.80" y="450.22" font-size="8.4" fill="#111" stroke="#111" textLength="9.99" lengthAdjust="spacingAndGlyphs">H3</text>
<rect x="330.90" y="453.80" width="34.80" height="8.40" fill="#eaeaea" stroke="#8f8f8f" stroke-width="0.95"/>
<rect x="333.30" y="455.25" width="13.20" height="5.50" rx="1.80" fill="rgb(6,6,6)" filter="url(#bl)"/>
<rect x="349.80" y="455.00" width="13.20" height="6.00" rx="1.80" fill="rgb(6,6,6)" filter="url(#bl)"/>
<rect x="376.50" y="453.80" width="34.80" height="8.40" fill="#eaeaea" stroke="#8f8f8f" stroke-width="0.95"/>
<rect x="378.90" y="456.00" width="13.20" height="4.00" rx="1.80" fill="rgb(14,14,14)" filter="url(#bl)"/>
<rect x="395.40" y="456.00" width="13.20" height="4.00" rx="1.80" fill="rgb(14,14,14)" filter="url(#bl)"/>
<rect x="420.10" y="453.80" width="34.80" height="8.40" fill="#eaeaea" stroke="#8f8f8f" stroke-width="0.95"/>
<rect x="422.50" y="456.00" width="13.20" height="4.00" rx="1.80" fill="rgb(14,14,14)" filter="url(#bl)"/>
<rect x="439.00" y="456.00" width="13.20" height="4.00" rx="1.80" fill="rgb(29,29,29)" filter="url(#bl)"/>
<text x="472.80" y="460.32" font-size="8.4" fill="#111" stroke="#111" textLength="12.16" lengthAdjust="spacingAndGlyphs">ID2</text>
<rect x="330.90" y="464.60" width="34.80" height="6.30" fill="#eaeaea" stroke="#8f8f8f" stroke-width="0.95"/>
<rect x="332.80" y="466.00" width="14.20" height="3.50" rx="1.75" fill="rgb(8,8,8)" filter="url(#bl)"/>
<rect x="350.30" y="466.25" width="12.20" height="3.00" rx="1.50" fill="rgb(45,45,45)" filter="url(#bl)"/>
<rect x="376.50" y="464.60" width="34.80" height="6.30" fill="#eaeaea" stroke="#8f8f8f" stroke-width="0.95"/>
<rect x="378.90" y="466.25" width="13.20" height="3.00" rx="1.50" fill="rgb(29,29,29)" filter="url(#bl)"/>
<rect x="394.90" y="466.00" width="14.20" height="3.50" rx="1.75" fill="rgb(14,14,14)" filter="url(#bl)"/>
<rect x="420.10" y="464.60" width="34.80" height="6.30" fill="#eaeaea" stroke="#8f8f8f" stroke-width="0.95"/>
<rect x="423.00" y="466.50" width="12.20" height="2.50" rx="1.25" fill="rgb(102,102,102)" filter="url(#bl)"/>
<rect x="439.00" y="466.25" width="13.20" height="3.00" rx="1.50" fill="rgb(39,39,39)" filter="url(#bl)"/>
<text x="472.80" y="470.32" font-size="8.4" fill="#111" stroke="#111" textLength="12.16" lengthAdjust="spacingAndGlyphs">ID3</text>
<rect x="330.90" y="475.90" width="34.80" height="10.30" fill="#eaeaea" stroke="#8f8f8f" stroke-width="0.95"/>
<rect x="332.80" y="478.55" width="14.20" height="5.00" rx="1.80" fill="rgb(14,14,14)" filter="url(#bl)"/>
<rect x="349.30" y="478.55" width="14.20" height="5.00" rx="1.80" fill="rgb(14,14,14)" filter="url(#bl)"/>
<rect x="376.50" y="475.90" width="34.80" height="10.30" fill="#eaeaea" stroke="#8f8f8f" stroke-width="0.95"/>
<rect x="378.40" y="478.30" width="14.20" height="5.50" rx="1.80" fill="rgb(6,6,6)" filter="url(#bl)"/>
<rect x="395.40" y="479.05" width="13.20" height="4.00" rx="1.80" fill="rgb(67,67,67)" filter="url(#bl)"/>
<rect x="420.10" y="475.90" width="34.80" height="10.30" fill="#eaeaea" stroke="#8f8f8f" stroke-width="0.95"/>
<rect x="421.50" y="477.80" width="15.20" height="6.50" rx="1.80" fill="rgb(0,0,0)" filter="url(#bl)"/>
<rect x="439.00" y="479.05" width="13.20" height="4.00" rx="1.80" fill="rgb(39,39,39)" filter="url(#bl)"/>
<text x="472.80" y="483.02" font-size="8.4" fill="#111" stroke="#111" textLength="19.8" lengthAdjust="spacingAndGlyphs">EZH2</text>
<rect x="330.90" y="489.00" width="34.80" height="9.50" fill="#eaeaea" stroke="#8f8f8f" stroke-width="0.95"/>
<rect x="332.80" y="492.00" width="14.20" height="3.50" rx="1.75" fill="rgb(14,14,14)" filter="url(#bl)"/>
<rect x="349.30" y="492.00" width="14.20" height="3.50" rx="1.75" fill="rgb(14,14,14)" filter="url(#bl)"/>
<rect x="376.50" y="489.00" width="34.80" height="9.50" fill="#eaeaea" stroke="#8f8f8f" stroke-width="0.95"/>
<rect x="378.40" y="492.00" width="14.20" height="3.50" rx="1.75" fill="rgb(19,19,19)" filter="url(#bl)"/>
<rect x="394.90" y="492.00" width="14.20" height="3.50" rx="1.75" fill="rgb(19,19,19)" filter="url(#bl)"/>
<rect x="420.10" y="489.00" width="34.80" height="9.50" fill="#eaeaea" stroke="#8f8f8f" stroke-width="0.95"/>
<rect x="422.50" y="492.15" width="13.20" height="3.20" rx="1.60" fill="rgb(24,24,24)" filter="url(#bl)"/>
<rect x="439.00" y="492.15" width="13.20" height="3.20" rx="1.60" fill="rgb(24,24,24)" filter="url(#bl)"/>
<text x="472.80" y="496.32" font-size="8.4" fill="#111" stroke="#111" textLength="23.59" lengthAdjust="spacingAndGlyphs">β-actin</text>
<rect x="330.90" y="502.00" width="34.80" height="9.50" fill="#eaeaea" stroke="#8f8f8f" stroke-width="0.95"/>
<rect x="333.30" y="505.00" width="13.20" height="3.50" rx="1.75" fill="rgb(39,39,39)" filter="url(#bl)"/>
<rect x="349.30" y="504.75" width="14.20" height="4.00" rx="1.80" fill="rgb(24,24,24)" filter="url(#bl)"/>
<rect x="376.50" y="502.00" width="34.80" height="9.50" fill="#eaeaea" stroke="#8f8f8f" stroke-width="0.95"/>
<rect x="378.90" y="504.75" width="13.20" height="4.00" rx="1.80" fill="rgb(29,29,29)" filter="url(#bl)"/>
<rect x="395.40" y="504.75" width="13.20" height="4.00" rx="1.80" fill="rgb(39,39,39)" filter="url(#bl)"/>
<rect x="420.10" y="502.00" width="34.80" height="9.50" fill="#eaeaea" stroke="#8f8f8f" stroke-width="0.95"/>
<rect x="422.50" y="504.75" width="13.20" height="4.00" rx="1.80" fill="rgb(29,29,29)" filter="url(#bl)"/>
<rect x="439.00" y="504.75" width="13.20" height="4.00" rx="1.80" fill="rgb(29,29,29)" filter="url(#bl)"/>
<text x="472.80" y="509.02" font-size="8.4" fill="#111" stroke="#111" textLength="28.7" lengthAdjust="spacingAndGlyphs">GAPDH</text>
<text x="7.90" y="535.00" font-size="11.8" font-weight="bold" fill="#000" textLength="7.25" lengthAdjust="spacingAndGlyphs" stroke="#000" stroke-width="0.3">E</text>
<line x1="33.40" y1="541.05" x2="33.40" y2="643.40" stroke="#2b2b2b" stroke-width="1.2"/>
<line x1="30.80" y1="642.80" x2="33.40" y2="642.80" stroke="#2b2b2b" stroke-width="1"/>
<text x="27.10" y="645.75" font-size="8.2" text-anchor="end" stroke="#231f20">0</text>
<line x1="30.80" y1="609.05" x2="33.40" y2="609.05" stroke="#2b2b2b" stroke-width="1"/>
<text x="27.10" y="612.00" font-size="8.2" text-anchor="end" stroke="#231f20">5</text>
<line x1="30.80" y1="575.30" x2="33.40" y2="575.30" stroke="#2b2b2b" stroke-width="1"/>
<text x="27.10" y="578.25" font-size="8.2" text-anchor="end" stroke="#231f20">10</text>
<line x1="30.80" y1="541.55" x2="33.40" y2="541.55" stroke="#2b2b2b" stroke-width="1"/>
<text x="27.10" y="544.50" font-size="8.2" text-anchor="end" stroke="#231f20">15</text>
<line x1="32.80" y1="642.80" x2="99.40" y2="642.80" stroke="#2b2b2b" stroke-width="1.2"/>
<line x1="67.70" y1="642.80" x2="67.70" y2="645.40" stroke="#2b2b2b" stroke-width="1"/>
<line x1="54.00" y1="562.00" x2="81.00" y2="562.00" stroke="#5a5a5a" stroke-width="1.5"/>
<polygon points="67.40,555.15 67.96,556.53 69.44,556.64 68.30,557.59 68.66,559.04 67.40,558.25 66.14,559.04 66.50,557.59 65.36,556.64 66.84,556.53" fill="#111"/>
<text x="13.30" y="591.90" font-size="9.4" text-anchor="middle" stroke="#231f20" textLength="93.7" lengthAdjust="spacingAndGlyphs" transform="rotate(-90 13.30 591.90)">SIRT1 normalized to loading</text>
<line x1="52.50" y1="636.00" x2="82.00" y2="577.40" stroke="#0f4f8a" stroke-width="1.3"/>
<line x1="52.50" y1="636.00" x2="82.00" y2="615.80" stroke="#0f4f8a" stroke-width="1.3"/>
<line x1="52.50" y1="636.00" x2="82.00" y2="619.20" stroke="#0f4f8a" stroke-width="1.3"/>
<line x1="52.50" y1="636.00" x2="82.00" y2="623.20" stroke="#0f4f8a" stroke-width="1.3"/>
<line x1="52.50" y1="636.00" x2="82.00" y2="630.60" stroke="#0f4f8a" stroke-width="1.3"/>
<line x1="52.50" y1="636.00" x2="82.00" y2="636.40" stroke="#0f4f8a" stroke-width="1.3"/>
<circle cx="82.00" cy="577.40" r="1.45" fill="#0f4f8a"/>
<circle cx="82.00" cy="615.80" r="1.45" fill="#0f4f8a"/>
<circle cx="82.00" cy="619.20" r="1.45" fill="#0f4f8a"/>
<circle cx="82.00" cy="623.20" r="1.45" fill="#0f4f8a"/>
<circle cx="82.00" cy="630.60" r="1.45" fill="#0f4f8a"/>
<circle cx="82.00" cy="636.40" r="1.45" fill="#0f4f8a"/>
<circle cx="52.50" cy="636.00" r="1.6" fill="#d0102b"/>
<text x="48.35" y="654.04" font-size="7.6" text-anchor="middle" stroke="#231f20" textLength="16.5" lengthAdjust="spacingAndGlyphs">mean</text>
<text x="48.35" y="660.54" font-size="7.6" text-anchor="middle" stroke="#231f20" textLength="29.0" lengthAdjust="spacingAndGlyphs">normalized</text>
<text x="48.35" y="666.74" font-size="7.6" text-anchor="middle" stroke="#231f20" textLength="19.0" lengthAdjust="spacingAndGlyphs">control</text>
<text x="81.50" y="653.94" font-size="7.6" text-anchor="middle" stroke="#231f20" textLength="23.4" lengthAdjust="spacingAndGlyphs">duvelisib</text>
<text x="67.30" y="682.95" font-size="8.2" text-anchor="middle" stroke="#231f20" textLength="24.6" lengthAdjust="spacingAndGlyphs">Day 15</text>
<line x1="132.10" y1="540.74" x2="132.10" y2="643.60" stroke="#2b2b2b" stroke-width="1.2"/>
<line x1="129.50" y1="643.00" x2="132.10" y2="643.00" stroke="#2b2b2b" stroke-width="1"/>
<text x="125.80" y="645.95" font-size="8.2" text-anchor="end" stroke="#231f20">0</text>
<line x1="129.50" y1="617.56" x2="132.10" y2="617.56" stroke="#2b2b2b" stroke-width="1"/>
<text x="125.80" y="620.51" font-size="8.2" text-anchor="end" stroke="#231f20">2</text>
<line x1="129.50" y1="592.12" x2="132.10" y2="592.12" stroke="#2b2b2b" stroke-width="1"/>
<text x="125.80" y="595.07" font-size="8.2" text-anchor="end" stroke="#231f20">4</text>
<line x1="129.50" y1="566.68" x2="132.10" y2="566.68" stroke="#2b2b2b" stroke-width="1"/>
<text x="125.80" y="569.63" font-size="8.2" text-anchor="end" stroke="#231f20">6</text>
<line x1="129.50" y1="541.24" x2="132.10" y2="541.24" stroke="#2b2b2b" stroke-width="1"/>
<text x="125.80" y="544.19" font-size="8.2" text-anchor="end" stroke="#231f20">8</text>
<line x1="131.50" y1="643.00" x2="198.00" y2="643.00" stroke="#2b2b2b" stroke-width="1.2"/>
<line x1="165.20" y1="643.00" x2="165.20" y2="645.60" stroke="#2b2b2b" stroke-width="1"/>
<line x1="151.00" y1="547.00" x2="180.00" y2="547.00" stroke="#5a5a5a" stroke-width="1.5"/>
<polygon points="163.80,539.95 164.36,541.33 165.84,541.44 164.70,542.39 165.06,543.84 163.80,543.05 162.54,543.84 162.90,542.39 161.76,541.44 163.24,541.33" fill="#111"/>
<text x="114.80" y="590.90" font-size="9.4" text-anchor="middle" stroke="#231f20" textLength="95.7" lengthAdjust="spacingAndGlyphs" transform="rotate(-90 114.80 590.90)">FOXO1 normalized to loading</text>
<line x1="151.10" y1="630.50" x2="180.40" y2="560.80" stroke="#0f4f8a" stroke-width="1.3"/>
<line x1="151.10" y1="630.50" x2="180.40" y2="606.20" stroke="#0f4f8a" stroke-width="1.3"/>
<line x1="151.10" y1="630.50" x2="180.40" y2="619.40" stroke="#0f4f8a" stroke-width="1.3"/>
<circle cx="180.40" cy="560.80" r="1.45" fill="#0f4f8a"/>
<circle cx="180.40" cy="606.20" r="1.45" fill="#0f4f8a"/>
<circle cx="180.40" cy="619.40" r="1.45" fill="#0f4f8a"/>
<circle cx="151.10" cy="630.50" r="1.6" fill="#d0102b"/>
<text x="146.45" y="654.04" font-size="7.6" text-anchor="middle" stroke="#231f20" textLength="16.5" lengthAdjust="spacingAndGlyphs">mean</text>
<text x="146.45" y="660.54" font-size="7.6" text-anchor="middle" stroke="#231f20" textLength="29.0" lengthAdjust="spacingAndGlyphs">normalized</text>
<text x="146.45" y="666.74" font-size="7.6" text-anchor="middle" stroke="#231f20" textLength="19.0" lengthAdjust="spacingAndGlyphs">control</text>
<text x="179.00" y="653.94" font-size="7.6" text-anchor="middle" stroke="#231f20" textLength="23.4" lengthAdjust="spacingAndGlyphs">duvelisib</text>
<text x="164.80" y="682.95" font-size="8.2" text-anchor="middle" stroke="#231f20" textLength="24.6" lengthAdjust="spacingAndGlyphs">Day 15</text>
<line x1="233.50" y1="540.50" x2="233.50" y2="643.60" stroke="#2b2b2b" stroke-width="1.2"/>
<line x1="230.90" y1="643.00" x2="233.50" y2="643.00" stroke="#2b2b2b" stroke-width="1"/>
<text x="227.20" y="645.95" font-size="8.2" text-anchor="end" stroke="#231f20">0</text>
<line x1="230.90" y1="617.50" x2="233.50" y2="617.50" stroke="#2b2b2b" stroke-width="1"/>
<text x="227.20" y="620.45" font-size="8.2" text-anchor="end" stroke="#231f20">2</text>
<line x1="230.90" y1="592.00" x2="233.50" y2="592.00" stroke="#2b2b2b" stroke-width="1"/>
<text x="227.20" y="594.95" font-size="8.2" text-anchor="end" stroke="#231f20">4</text>
<line x1="230.90" y1="566.50" x2="233.50" y2="566.50" stroke="#2b2b2b" stroke-width="1"/>
<text x="227.20" y="569.45" font-size="8.2" text-anchor="end" stroke="#231f20">6</text>
<line x1="230.90" y1="541.00" x2="233.50" y2="541.00" stroke="#2b2b2b" stroke-width="1"/>
<text x="227.20" y="543.95" font-size="8.2" text-anchor="end" stroke="#231f20">8</text>
<line x1="232.90" y1="643.00" x2="299.40" y2="643.00" stroke="#2b2b2b" stroke-width="1.2"/>
<line x1="267.20" y1="643.00" x2="267.20" y2="645.60" stroke="#2b2b2b" stroke-width="1"/>
<line x1="250.00" y1="542.90" x2="283.00" y2="542.90" stroke="#5a5a5a" stroke-width="1.5"/>
<polygon points="266.30,535.75 266.86,537.13 268.34,537.24 267.20,538.19 267.56,539.64 266.30,538.85 265.04,539.64 265.40,538.19 264.26,537.24 265.74,537.13" fill="#111"/>
<text x="213.30" y="591.10" font-size="9.4" text-anchor="middle" stroke="#231f20" textLength="96.6" lengthAdjust="spacingAndGlyphs" transform="rotate(-90 213.30 591.10)">TCF1/7 normalized to loading</text>
<line x1="252.50" y1="630.50" x2="282.20" y2="556.30" stroke="#0f4f8a" stroke-width="1.3"/>
<line x1="252.50" y1="630.50" x2="282.20" y2="595.10" stroke="#0f4f8a" stroke-width="1.3"/>
<line x1="252.50" y1="630.50" x2="282.20" y2="602.00" stroke="#0f4f8a" stroke-width="1.3"/>
<line x1="252.50" y1="630.50" x2="282.20" y2="616.00" stroke="#0f4f8a" stroke-width="1.3"/>
<line x1="252.50" y1="630.50" x2="282.20" y2="619.60" stroke="#0f4f8a" stroke-width="1.3"/>
<circle cx="282.20" cy="556.30" r="1.45" fill="#0f4f8a"/>
<circle cx="282.20" cy="595.10" r="1.45" fill="#0f4f8a"/>
<circle cx="282.20" cy="602.00" r="1.45" fill="#0f4f8a"/>
<circle cx="282.20" cy="616.00" r="1.45" fill="#0f4f8a"/>
<circle cx="282.20" cy="619.60" r="1.45" fill="#0f4f8a"/>
<circle cx="252.50" cy="630.50" r="1.6" fill="#d0102b"/>
<text x="248.15" y="654.04" font-size="7.6" text-anchor="middle" stroke="#231f20" textLength="16.5" lengthAdjust="spacingAndGlyphs">mean</text>
<text x="248.15" y="660.54" font-size="7.6" text-anchor="middle" stroke="#231f20" textLength="29.0" lengthAdjust="spacingAndGlyphs">normalized</text>
<text x="248.15" y="666.74" font-size="7.6" text-anchor="middle" stroke="#231f20" textLength="19.0" lengthAdjust="spacingAndGlyphs">control</text>
<text x="281.00" y="653.94" font-size="7.6" text-anchor="middle" stroke="#231f20" textLength="23.4" lengthAdjust="spacingAndGlyphs">duvelisib</text>
<text x="266.80" y="682.95" font-size="8.2" text-anchor="middle" stroke="#231f20" textLength="24.6" lengthAdjust="spacingAndGlyphs">Day 15</text>
<line x1="340.00" y1="544.30" x2="340.00" y2="643.20" stroke="#2b2b2b" stroke-width="1.2"/>
<line x1="337.40" y1="642.60" x2="340.00" y2="642.60" stroke="#2b2b2b" stroke-width="1"/>
<text x="333.70" y="645.55" font-size="8.2" text-anchor="end" stroke="#231f20">0.0</text>
<line x1="337.40" y1="618.15" x2="340.00" y2="618.15" stroke="#2b2b2b" stroke-width="1"/>
<text x="333.70" y="621.10" font-size="8.2" text-anchor="end" stroke="#231f20">0.5</text>
<line x1="337.40" y1="593.70" x2="340.00" y2="593.70" stroke="#2b2b2b" stroke-width="1"/>
<text x="333.70" y="596.65" font-size="8.2" text-anchor="end" stroke="#231f20">1.0</text>
<line x1="337.40" y1="569.25" x2="340.00" y2="569.25" stroke="#2b2b2b" stroke-width="1"/>
<text x="333.70" y="572.20" font-size="8.2" text-anchor="end" stroke="#231f20">1.5</text>
<line x1="337.40" y1="544.80" x2="340.00" y2="544.80" stroke="#2b2b2b" stroke-width="1"/>
<text x="333.70" y="547.75" font-size="8.2" text-anchor="end" stroke="#231f20">2.0</text>
<line x1="339.40" y1="642.60" x2="408.50" y2="642.60" stroke="#2b2b2b" stroke-width="1.2"/>
<line x1="372.50" y1="642.60" x2="372.50" y2="645.20" stroke="#2b2b2b" stroke-width="1"/>
<line x1="356.00" y1="541.10" x2="386.00" y2="541.10" stroke="#5a5a5a" stroke-width="1.5"/>
<polygon points="371.40,534.25 371.96,535.63 373.44,535.74 372.30,536.69 372.66,538.14 371.40,537.35 370.14,538.14 370.50,536.69 369.36,535.74 370.84,535.63" fill="#111"/>
<text x="316.30" y="591.80" font-size="9.4" text-anchor="middle" stroke="#231f20" textLength="113.3" lengthAdjust="spacingAndGlyphs" transform="rotate(-90 316.30 591.80)">H3K27me3 normalized to loading</text>
<line x1="358.20" y1="593.70" x2="386.40" y2="550.70" stroke="#0f4f8a" stroke-width="1.3"/>
<line x1="358.20" y1="593.70" x2="386.40" y2="557.40" stroke="#0f4f8a" stroke-width="1.3"/>
<line x1="358.20" y1="593.70" x2="386.40" y2="577.00" stroke="#0f4f8a" stroke-width="1.3"/>
<line x1="358.20" y1="593.70" x2="386.40" y2="587.00" stroke="#0f4f8a" stroke-width="1.3"/>
<circle cx="386.40" cy="550.70" r="1.45" fill="#0f4f8a"/>
<circle cx="386.40" cy="557.40" r="1.45" fill="#0f4f8a"/>
<circle cx="386.40" cy="577.00" r="1.45" fill="#0f4f8a"/>
<circle cx="386.40" cy="587.00" r="1.45" fill="#0f4f8a"/>
<circle cx="358.20" cy="593.70" r="1.6" fill="#d0102b"/>
<text x="354.05" y="654.04" font-size="7.6" text-anchor="middle" stroke="#231f20" textLength="16.5" lengthAdjust="spacingAndGlyphs">mean</text>
<text x="354.05" y="660.54" font-size="7.6" text-anchor="middle" stroke="#231f20" textLength="29.0" lengthAdjust="spacingAndGlyphs">normalized</text>
<text x="354.05" y="666.74" font-size="7.6" text-anchor="middle" stroke="#231f20" textLength="19.0" lengthAdjust="spacingAndGlyphs">control</text>
<text x="386.30" y="653.94" font-size="7.6" text-anchor="middle" stroke="#231f20" textLength="23.4" lengthAdjust="spacingAndGlyphs">duvelisib</text>
<text x="372.10" y="682.95" font-size="8.2" text-anchor="middle" stroke="#231f20" textLength="24.6" lengthAdjust="spacingAndGlyphs">Day 15</text>
<text x="406.60" y="535.10" font-size="11.8" font-weight="bold" fill="#000" textLength="6.35" lengthAdjust="spacingAndGlyphs" stroke="#000" stroke-width="0.3">F</text>
<line x1="450.60" y1="546.50" x2="450.60" y2="644.20" stroke="#2b2b2b" stroke-width="1.2"/>
<line x1="448.00" y1="643.60" x2="450.60" y2="643.60" stroke="#2b2b2b" stroke-width="1"/>
<text x="444.60" y="646.55" font-size="8.2" text-anchor="end" stroke="#231f20">0</text>
<line x1="448.00" y1="624.28" x2="450.60" y2="624.28" stroke="#2b2b2b" stroke-width="1"/>
<text x="444.60" y="627.23" font-size="8.2" text-anchor="end" stroke="#231f20">10</text>
<line x1="448.00" y1="604.96" x2="450.60" y2="604.96" stroke="#2b2b2b" stroke-width="1"/>
<text x="444.60" y="607.91" font-size="8.2" text-anchor="end" stroke="#231f20">20</text>
<line x1="448.00" y1="585.64" x2="450.60" y2="585.64" stroke="#2b2b2b" stroke-width="1"/>
<text x="444.60" y="588.59" font-size="8.2" text-anchor="end" stroke="#231f20">30</text>
<line x1="448.00" y1="566.32" x2="450.60" y2="566.32" stroke="#2b2b2b" stroke-width="1"/>
<text x="444.60" y="569.27" font-size="8.2" text-anchor="end" stroke="#231f20">40</text>
<line x1="448.00" y1="547.00" x2="450.60" y2="547.00" stroke="#2b2b2b" stroke-width="1"/>
<text x="444.60" y="549.95" font-size="8.2" text-anchor="end" stroke="#231f20">50</text>
<line x1="450.00" y1="643.60" x2="512.20" y2="643.60" stroke="#2b2b2b" stroke-width="1.2"/>
<line x1="468.50" y1="643.60" x2="468.50" y2="646.60" stroke="#2b2b2b" stroke-width="1"/>
<line x1="496.20" y1="643.60" x2="496.20" y2="646.60" stroke="#2b2b2b" stroke-width="1"/>
<line x1="468.00" y1="539.90" x2="496.60" y2="539.90" stroke="#5a5a5a" stroke-width="1.5"/>
<polygon points="483.30,533.25 483.86,534.63 485.34,534.74 484.20,535.69 484.56,537.14 483.30,536.35 482.04,537.14 482.40,535.69 481.26,534.74 482.74,534.63" fill="#111"/>
<text x="419.00" y="592.50" font-size="9.4" text-anchor="middle" stroke="#231f20" textLength="29.6" lengthAdjust="spacingAndGlyphs" transform="rotate(-90 419.00 592.50)">TCF1/7+</text>
<text x="430.50" y="592.00" font-size="9.4" text-anchor="middle" stroke="#231f20" textLength="104.3" lengthAdjust="spacingAndGlyphs" transform="rotate(-90 430.50 592.00)">as % CD8+Gata3+CD95+ cells</text>
<circle cx="468.50" cy="603.00" r="1.4" fill="#cc1029"/>
<circle cx="462.70" cy="612.50" r="1.4" fill="#cc1029"/>
<circle cx="468.50" cy="612.50" r="1.4" fill="#cc1029"/>
<circle cx="474.50" cy="612.50" r="1.4" fill="#cc1029"/>
<circle cx="468.50" cy="615.30" r="1.4" fill="#cc1029"/>
<circle cx="468.50" cy="625.50" r="1.4" fill="#cc1029"/>
<line x1="459.60" y1="612.50" x2="477.60" y2="612.50" stroke="#cc1029" stroke-width="1.1"/>
<circle cx="496.20" cy="557.00" r="1.4" fill="#0f4f8a"/>
<circle cx="493.30" cy="585.50" r="1.4" fill="#0f4f8a"/>
<circle cx="499.00" cy="586.00" r="1.4" fill="#0f4f8a"/>
<circle cx="493.30" cy="594.90" r="1.4" fill="#0f4f8a"/>
<circle cx="499.00" cy="594.90" r="1.4" fill="#0f4f8a"/>
<circle cx="496.20" cy="626.00" r="1.4" fill="#0f4f8a"/>
<line x1="487.00" y1="590.40" x2="505.10" y2="590.40" stroke="#0f4f8a" stroke-width="1.1"/>
<text x="0" y="0" font-size="8.4" stroke="#231f20" text-anchor="end" textLength="45" lengthAdjust="spacingAndGlyphs" transform="translate(471.5,651.0) rotate(-45)">0.1% DMSO</text>
<text x="0" y="0" font-size="8.4" stroke="#231f20" text-anchor="end" textLength="59.5" lengthAdjust="spacingAndGlyphs" transform="translate(499.0,652.0) rotate(-45)">300nM duvelisib</text>
<rect x="0.5" y="0.5" width="518.8" height="699.6" fill="none" stroke="#000" stroke-width="1.3"/>
</svg>
</body></html>
